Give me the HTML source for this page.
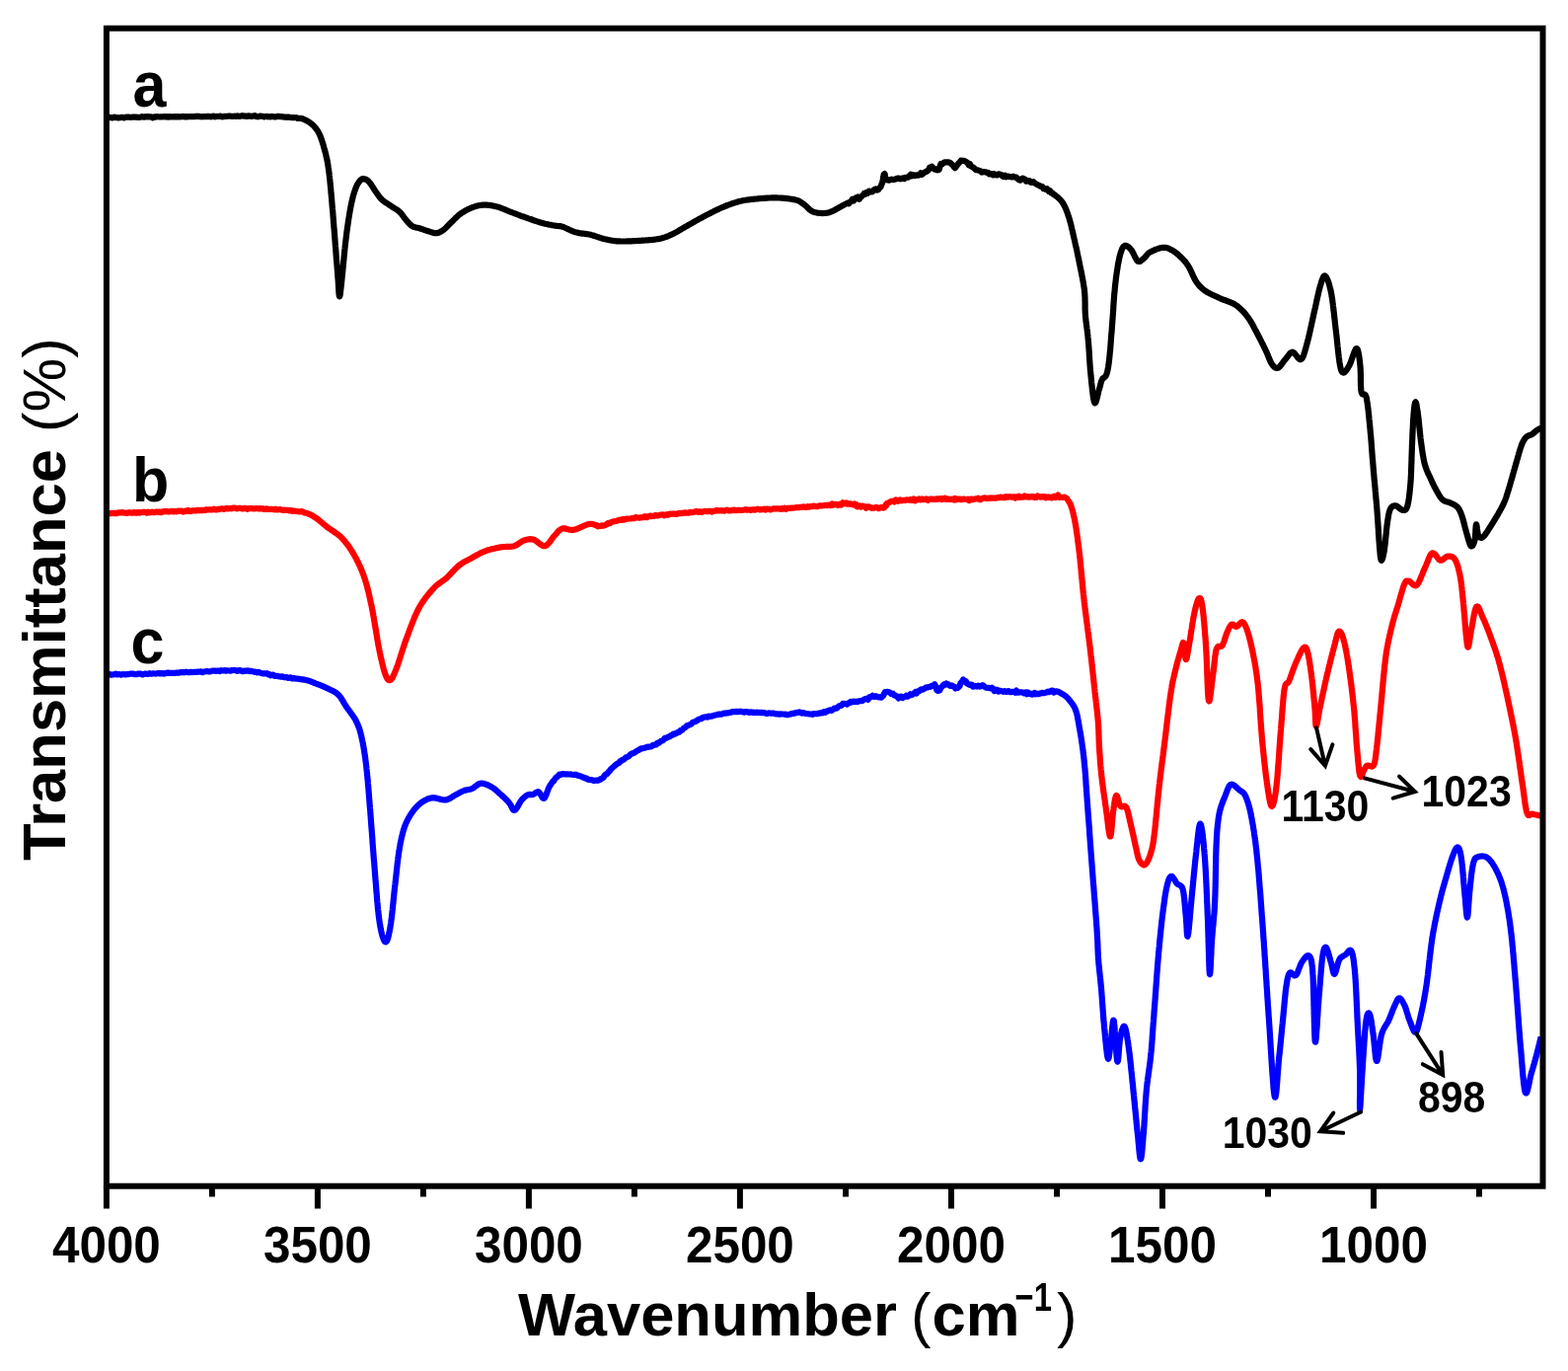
<!DOCTYPE html>
<html><head><meta charset="utf-8"><style>
html,body{margin:0;padding:0;background:#fff;}
svg{display:block;}
text{font-family:"Liberation Sans",Arial,sans-serif;font-weight:bold;fill:#000;}
.tk{font-size:49.4px;}
.ttl{font-size:61.5px;}
.rg{font-weight:normal;}
.sup{font-size:41px;}
.lb{font-size:61px;}
.an{font-size:41px;}
</style></head><body>
<svg width="1589" height="1389" viewBox="0 0 1589 1389">
<rect x="0" y="0" width="1589" height="1389" fill="#fff"/>
<polyline points="107.5,118.9 108.2,119.3 109.0,119.4 109.8,119.0 110.7,118.8 111.7,119.1 112.7,119.2 113.8,119.4 115.0,118.8 116.2,118.7 117.4,119.2 118.7,119.1 120.0,119.4 121.4,119.2 122.7,118.9 124.2,118.8 125.6,119.5 127.1,118.8 128.6,118.6 130.1,118.5 131.6,118.8 133.2,118.8 134.7,118.6 136.3,118.7 137.9,118.7 139.4,118.8 141.0,118.9 142.5,118.7 144.0,118.1 145.6,118.7 147.1,118.2 148.5,118.5 150.0,118.1 151.2,118.5 152.5,118.3 153.7,118.5 154.9,119.3 156.2,118.4 157.5,118.6 158.8,118.1 160.0,118.3 161.3,118.5 162.6,118.3 163.9,118.4 165.2,118.3 166.5,118.1 167.9,118.4 169.2,118.1 170.5,118.7 171.9,118.1 173.2,118.4 174.5,118.2 175.9,118.5 177.2,118.1 178.6,118.4 179.9,118.1 181.3,118.5 182.6,118.3 184.0,118.2 185.3,117.9 186.7,118.3 188.0,118.2 189.3,118.5 190.7,118.0 192.0,118.2 193.4,118.2 194.7,118.1 196.0,118.1 197.4,118.1 198.7,117.9 200.0,117.7 201.3,117.9 202.7,118.1 204.0,118.3 205.4,118.2 206.7,118.2 208.1,118.1 209.5,118.1 210.9,117.9 212.3,118.1 213.7,118.3 215.1,117.8 216.5,117.7 217.9,118.3 219.3,117.9 220.7,118.0 222.1,118.0 223.5,117.5 224.9,118.4 226.2,118.2 227.6,117.8 229.0,117.9 230.4,117.7 231.7,117.5 233.0,117.6 234.4,117.8 235.7,117.9 237.0,117.8 238.3,117.6 239.5,118.0 240.8,117.4 242.0,117.8 243.2,117.9 244.4,117.5 245.6,117.2 246.7,117.4 247.8,117.7 248.9,117.7 250.0,118.0 251.7,117.4 253.4,117.6 255.0,117.8 256.6,117.6 258.1,117.1 259.6,117.9 261.1,118.3 262.5,118.0 263.9,117.5 265.2,117.7 266.5,117.9 267.8,118.5 269.0,118.0 270.2,117.9 271.4,118.3 272.6,118.0 273.7,118.5 274.8,117.9 275.9,118.0 276.9,118.3 278.0,118.5 279.0,118.3 280.0,118.3 281.8,117.8 283.5,118.1 285.1,118.2 286.5,118.3 287.8,118.6 289.1,118.5 290.3,118.8 291.4,118.7 292.5,118.7 293.6,118.8 294.7,119.0 295.8,119.2 297.4,119.0 298.9,119.2 300.4,119.0 301.7,119.9 303.1,120.0 304.3,119.9 305.6,120.1 306.9,120.3 308.2,121.1 309.4,121.7 310.7,122.2 311.9,122.9 313.1,123.6 314.2,124.4 315.3,125.2 316.4,126.1 317.3,126.9 318.2,127.8 319.0,128.7 319.8,129.7 320.6,130.7 321.3,131.8 322.1,132.9 322.8,134.2 323.5,135.6 324.0,136.6 324.5,137.7 324.9,138.9 325.4,140.1 325.8,141.4 326.3,142.7 326.7,144.0 327.1,145.4 327.6,146.8 328.0,148.1 328.3,149.5 328.7,150.9 329.1,152.3 329.4,153.6 329.8,154.8 330.1,156.0 330.4,157.2 330.6,158.4 330.9,159.6 331.2,160.9 331.5,162.2 331.7,163.5 332.0,164.9 332.2,166.4 332.5,167.9 332.7,169.5 333.0,171.3 333.1,172.4 333.3,173.5 333.4,174.6 333.6,175.7 333.7,176.9 333.8,178.1 334.0,179.4 334.1,180.6 334.3,181.9 334.4,183.2 334.5,184.5 334.6,185.8 334.8,187.2 334.9,188.5 335.0,189.9 335.2,191.3 335.3,192.7 335.4,194.1 335.5,195.6 335.7,197.0 335.8,198.5 335.9,199.9 336.1,201.4 336.2,202.9 336.3,204.1 336.4,205.3 336.5,206.5 336.6,207.8 336.7,209.0 336.8,210.3 336.9,211.6 337.1,212.9 337.2,214.2 337.3,215.5 337.4,216.8 337.5,218.2 337.6,219.5 337.7,220.8 337.8,222.2 337.9,223.6 338.0,224.9 338.1,226.3 338.2,227.6 338.3,229.0 338.4,230.4 338.6,231.7 338.7,233.1 338.8,234.5 338.9,235.8 339.0,237.2 339.1,238.5 339.2,239.8 339.3,241.2 339.4,242.5 339.5,243.8 339.6,245.2 339.7,246.6 339.8,247.9 339.9,249.3 340.1,250.8 340.2,252.2 340.3,253.6 340.4,255.1 340.5,256.5 340.6,257.9 340.7,259.4 340.8,260.8 340.9,262.2 341.0,263.6 341.2,265.0 341.3,266.4 341.4,267.8 341.5,269.2 341.6,270.5 341.7,271.8 341.8,273.1 341.9,274.3 342.0,275.5 342.1,276.7 342.2,277.9 342.3,279.0 342.3,280.1 342.4,281.1 342.5,282.1 342.7,284.1 342.8,286.1 342.9,288.1 343.0,289.9 343.1,291.7 343.2,293.3 343.3,294.8 343.4,296.2 343.5,297.4 343.6,298.4 343.7,299.2 343.8,299.8 344.0,300.2 344.1,300.3 344.2,300.2 344.4,299.8 344.5,299.2 344.7,298.4 344.8,297.4 345.0,296.2 345.1,294.8 345.3,293.3 345.5,291.7 345.7,289.9 345.9,288.1 346.1,286.1 346.3,284.1 346.5,282.1 346.6,281.1 346.7,280.1 346.8,279.0 346.9,277.8 347.1,276.6 347.2,275.4 347.3,274.2 347.4,272.9 347.6,271.5 347.7,270.2 347.8,268.8 348.0,267.4 348.1,266.0 348.2,264.6 348.4,263.1 348.5,261.7 348.6,260.2 348.8,258.8 348.9,257.4 349.1,255.9 349.2,254.5 349.3,253.1 349.5,251.6 349.6,250.3 349.8,248.9 349.9,247.5 350.1,246.2 350.2,245.0 350.4,243.7 350.5,242.5 350.7,241.0 350.9,239.5 351.1,238.1 351.2,236.6 351.4,235.2 351.6,233.7 351.8,232.3 352.0,230.9 352.2,229.5 352.4,228.1 352.6,226.7 352.8,225.4 353.0,224.0 353.2,222.7 353.4,221.4 353.6,220.1 353.8,218.9 354.0,217.6 354.2,216.4 354.4,215.3 354.6,214.1 354.8,213.0 355.0,211.9 355.2,210.8 355.5,209.1 355.8,207.6 356.1,206.0 356.5,204.6 356.8,203.2 357.1,201.8 357.4,200.5 357.7,199.3 358.0,198.1 358.3,197.0 358.7,195.9 359.0,194.8 359.3,193.8 359.7,192.8 360.0,191.8 360.7,190.1 361.3,188.6 362.0,187.2 362.8,185.9 363.5,184.8 364.2,183.8 364.8,183.0 365.5,182.3 367.2,181.2 368.7,181.2 370.3,181.6 371.4,182.1 372.6,182.9 373.7,184.0 375.0,185.5 375.7,186.4 376.5,187.5 377.2,188.7 378.0,190.0 378.9,191.3 379.7,192.6 380.5,193.9 381.3,195.0 382.2,196.2 383.0,197.4 383.9,198.6 384.7,199.7 385.6,200.8 386.6,201.9 387.7,202.9 388.8,203.8 389.9,204.6 391.1,205.4 392.4,206.2 393.6,207.0 394.9,207.8 396.1,208.6 397.2,209.3 398.4,210.1 399.6,210.9 400.8,211.6 401.9,212.3 403.0,213.1 404.1,213.9 405.1,214.8 406.1,215.8 407.0,216.9 407.9,218.1 408.8,219.3 409.6,220.5 410.5,221.6 411.4,222.7 412.4,223.9 413.5,225.1 414.5,226.2 415.6,227.3 416.6,228.3 417.8,229.1 419.0,229.7 420.3,230.1 421.6,230.5 422.9,230.7 424.3,231.0 425.7,231.4 427.0,231.8 428.4,232.3 429.8,232.8 431.2,233.3 432.6,233.8 434.0,234.2 435.2,234.6 436.8,235.1 438.2,235.6 439.6,236.0 440.9,236.2 442.3,236.2 443.7,235.9 445.1,235.5 446.5,234.8 447.9,234.0 449.4,233.0 450.3,232.2 451.3,231.4 452.3,230.4 453.2,229.4 454.3,228.3 455.3,227.2 456.3,226.2 457.4,225.1 458.4,224.2 459.4,223.2 460.3,222.2 461.4,221.2 462.4,220.2 463.5,219.2 464.6,218.2 465.7,217.3 466.9,216.4 468.0,215.6 469.2,214.9 470.5,214.2 471.7,213.4 473.0,212.8 474.3,212.1 475.6,211.5 476.9,210.9 478.2,210.4 479.4,209.9 480.9,209.4 482.3,208.9 483.7,208.5 485.1,208.2 486.4,208.0 487.8,207.8 489.3,207.7 490.8,207.6 492.0,207.6 493.3,207.7 494.6,207.8 496.0,207.9 497.3,208.1 498.6,208.3 500.0,208.6 501.3,208.8 502.7,209.2 504.0,209.5 505.3,209.9 506.6,210.3 507.9,210.8 509.2,211.3 510.5,211.8 511.8,212.4 513.1,212.9 514.4,213.5 515.8,214.1 517.2,214.6 518.4,215.0 519.6,215.5 520.8,216.0 522.0,216.4 523.3,216.9 524.5,217.4 525.8,217.8 527.1,218.3 528.3,218.8 529.7,219.3 531.0,219.7 532.3,220.2 533.6,220.6 534.8,221.1 536.2,221.6 537.5,222.0 538.9,222.5 540.2,223.0 541.6,223.5 543.0,223.9 544.3,224.4 545.6,224.8 546.9,225.2 548.1,225.6 549.3,225.9 550.8,226.3 552.3,226.7 553.7,227.0 555.1,227.3 556.5,227.6 557.8,227.8 559.1,228.1 560.3,228.3 561.4,228.5 562.5,228.7 564.3,228.9 565.6,229.0 566.9,229.1 568.2,229.2 570.0,229.7 571.0,230.0 572.0,230.5 573.2,231.0 574.3,231.5 575.6,232.1 576.8,232.7 578.1,233.3 579.4,233.9 580.7,234.4 582.0,234.9 583.3,235.3 584.6,235.6 586.0,235.9 587.3,236.2 588.7,236.4 590.1,236.6 591.6,236.7 593.0,236.9 594.4,237.1 595.7,237.3 597.1,237.5 598.4,237.8 599.8,238.2 601.1,238.5 602.4,239.0 603.7,239.4 605.0,239.9 606.3,240.3 607.6,240.7 608.9,241.2 610.2,241.5 611.6,241.9 612.9,242.2 614.1,242.5 615.4,242.8 616.6,243.1 617.9,243.3 619.2,243.6 620.6,243.8 622.0,244.0 623.5,244.2 625.0,244.3 626.7,244.4 627.8,244.4 629.0,244.5 630.3,244.5 631.6,244.5 632.9,244.5 634.3,244.5 635.7,244.4 637.1,244.4 638.5,244.3 639.9,244.3 641.3,244.2 642.7,244.2 644.1,244.1 645.4,244.0 646.8,243.9 648.1,243.9 649.3,243.8 650.8,243.7 652.2,243.6 653.7,243.5 655.1,243.4 656.6,243.3 658.0,243.2 659.3,243.1 660.7,243.0 662.0,242.8 663.3,242.7 664.6,242.5 665.8,242.3 667.0,242.1 668.2,241.9 669.7,241.6 671.2,241.2 672.5,240.8 673.8,240.4 675.0,240.0 676.3,239.5 677.5,239.0 678.7,238.4 680.0,237.8 681.4,237.2 682.5,236.7 683.6,236.1 684.8,235.5 685.9,234.9 687.1,234.2 688.2,233.5 689.4,232.8 690.6,232.1 691.8,231.4 693.0,230.7 694.2,230.0 695.3,229.4 696.5,228.7 697.7,228.0 698.8,227.4 699.9,226.8 701.0,226.1 702.1,225.5 703.3,224.8 704.4,224.2 705.5,223.5 706.7,222.9 707.9,222.2 709.1,221.6 710.3,220.9 711.6,220.2 712.7,219.6 713.8,219.0 715.0,218.4 716.1,217.8 717.4,217.2 718.6,216.6 719.8,216.0 721.0,215.3 722.3,214.7 723.5,214.1 724.7,213.5 726.0,212.9 727.1,212.3 728.3,211.8 729.4,211.3 730.5,210.8 731.9,210.2 733.3,209.6 734.6,209.0 735.9,208.5 737.2,208.0 738.4,207.5 739.6,207.1 740.8,206.6 742.0,206.2 743.2,205.8 744.4,205.5 745.6,205.1 746.9,204.7 748.2,204.3 749.3,204.0 750.4,203.7 751.5,203.5 752.7,203.2 754.0,203.0 755.4,202.8 757.0,202.5 758.8,202.3 759.9,202.2 761.0,202.0 762.2,201.9 763.5,201.8 764.8,201.6 766.2,201.5 767.6,201.4 769.0,201.2 770.4,201.1 771.9,201.0 773.4,200.9 774.9,200.8 776.3,200.7 777.8,200.6 779.2,200.5 780.6,200.5 781.9,200.4 783.2,200.4 784.5,200.4 786.0,200.4 787.4,200.4 788.9,200.5 790.3,200.5 791.7,200.6 793.2,200.7 794.6,200.8 795.9,200.9 797.3,201.1 798.6,201.2 799.8,201.4 801.0,201.5 802.2,201.7 803.3,201.9 804.3,202.1 805.3,202.3 807.0,202.7 808.4,203.2 809.7,203.7 810.7,204.3 811.7,204.9 812.6,205.6 813.6,206.3 814.7,207.0 815.7,207.8 816.7,208.6 817.7,209.6 818.6,210.5 819.6,211.5 820.6,212.5 821.7,213.3 822.9,214.0 824.2,214.6 825.4,215.0 826.6,215.3 827.9,215.6 829.3,215.8 830.7,215.9 832.1,216.0 833.6,216.1 835.0,216.0 836.5,215.9 837.9,215.8 839.3,215.5 840.6,215.2 841.8,214.7 843.1,214.2 844.3,213.6 845.6,213.0 846.8,212.3 848.1,211.6 849.4,210.8 850.6,210.1 851.9,209.4 853.1,208.7 854.4,208.0 855.6,207.4 856.7,206.8 857.9,206.2 859.1,205.6 860.3,206.3 861.5,204.6 862.7,203.4 863.8,201.8 865.0,203.5 866.1,202.2 867.3,200.5 868.4,201.1 869.5,199.4 870.8,201.8 872.1,199.8 873.3,198.8 874.6,197.7 875.8,195.9 877.1,196.5 878.3,195.0 879.4,195.7 880.6,193.5 881.6,193.7 882.7,194.5 884.3,194.2 885.9,192.1 887.3,191.5 888.7,192.7 890.0,192.2 891.2,190.4 892.2,189.6 892.8,188.6 893.3,187.0 893.8,185.8 894.1,185.3 894.5,183.3 894.8,182.5 895.0,179.7 895.3,178.4 895.6,176.8 895.9,176.7 896.5,176.0 896.8,177.3 897.4,180.7 898.8,182.4 899.7,182.2 900.9,182.7 902.1,182.1 903.5,181.6 905.0,182.1 906.5,181.7 908.0,181.2 909.5,180.7 911.0,180.6 912.3,181.3 913.6,181.1 914.9,180.3 916.3,181.1 917.6,179.9 919.0,179.7 920.3,179.6 921.7,178.0 922.9,176.9 924.2,178.3 925.7,177.1 927.3,178.1 928.8,177.3 930.3,177.6 931.7,177.3 933.1,175.4 934.4,176.7 935.6,175.5 936.9,174.8 938.0,174.1 939.1,173.8 940.1,172.8 941.1,172.0 942.1,169.7 943.1,169.8 944.4,168.7 945.8,170.5 947.1,171.6 948.5,171.4 949.7,172.3 950.7,172.2 951.6,171.8 952.3,169.3 952.8,167.6 953.5,166.1 954.4,166.6 955.7,165.5 957.3,164.3 958.9,164.3 960.5,164.3 962.0,164.6 963.2,165.1 964.3,166.3 965.4,167.2 966.5,168.6 967.7,170.3 968.6,169.2 969.6,167.9 970.6,166.4 971.6,165.2 972.7,164.1 973.9,162.6 975.2,162.8 976.2,163.0 977.2,162.9 978.3,163.5 979.4,164.2 980.6,165.1 981.8,167.3 983.0,166.3 984.2,168.5 985.3,169.1 986.5,169.8 987.7,170.9 988.9,172.1 990.1,172.1 991.3,172.5 992.4,172.7 993.7,173.5 995.0,174.6 996.4,174.2 997.9,174.2 999.0,174.4 1000.1,174.8 1001.3,174.8 1002.5,176.5 1003.7,176.3 1004.9,176.1 1006.2,177.3 1007.5,176.2 1008.9,177.3 1010.3,177.5 1011.8,176.3 1013.3,176.6 1014.9,177.2 1016.0,178.5 1017.3,179.0 1018.5,177.7 1019.8,179.3 1021.2,178.6 1022.6,178.9 1024.0,179.0 1025.4,179.4 1026.9,178.7 1028.3,179.4 1029.7,179.6 1031.1,180.9 1032.5,182.1 1033.9,182.7 1035.2,181.2 1036.5,180.6 1037.7,181.7 1038.9,181.6 1040.0,183.7 1041.6,183.3 1043.1,183.0 1044.5,184.6 1045.9,184.9 1047.2,184.1 1048.4,185.3 1049.5,186.0 1050.7,186.8 1051.8,187.4 1052.8,187.7 1053.9,188.6 1055.0,188.6 1056.3,189.1 1057.5,191.2 1058.7,191.1 1059.8,191.8 1060.9,191.2 1062.0,192.7 1063.0,193.9 1064.1,193.3 1065.1,195.5 1066.2,195.4 1067.3,196.6 1068.4,197.1 1069.5,198.1 1070.6,198.9 1071.6,199.7 1072.7,200.6 1073.7,201.6 1074.7,202.6 1075.6,203.7 1076.5,204.9 1077.2,205.9 1077.8,207.0 1078.4,208.1 1079.0,209.2 1079.6,210.4 1080.1,211.6 1080.6,212.8 1081.1,214.1 1081.6,215.5 1082.1,216.9 1082.6,218.4 1083.1,219.9 1083.5,221.0 1083.8,222.2 1084.1,223.4 1084.5,224.6 1084.8,225.9 1085.2,227.1 1085.5,228.4 1085.8,229.8 1086.1,231.1 1086.4,232.5 1086.8,233.9 1087.1,235.3 1087.4,236.7 1087.7,238.1 1088.0,239.5 1088.4,241.0 1088.7,242.4 1089.0,243.6 1089.3,244.9 1089.5,246.1 1089.8,247.4 1090.1,248.7 1090.4,250.0 1090.7,251.3 1091.0,252.6 1091.3,253.9 1091.6,255.3 1091.8,256.6 1092.1,257.9 1092.4,259.3 1092.7,260.6 1093.0,262.0 1093.2,263.3 1093.5,264.6 1093.8,266.0 1094.0,267.3 1094.3,268.6 1094.6,269.9 1094.8,271.2 1095.1,272.5 1095.4,273.9 1095.6,275.2 1095.9,276.5 1096.2,277.8 1096.4,279.2 1096.7,280.5 1096.9,281.8 1097.2,283.1 1097.4,284.5 1097.7,285.8 1097.9,287.1 1098.1,288.4 1098.3,289.7 1098.5,291.0 1098.7,292.3 1098.9,293.5 1099.0,294.8 1099.1,296.2 1099.3,297.6 1099.3,299.0 1099.4,300.3 1099.5,301.7 1099.5,303.0 1099.5,304.4 1099.6,305.7 1099.6,307.1 1099.6,308.4 1099.6,309.7 1099.6,311.1 1099.6,312.4 1099.6,313.7 1099.7,315.1 1099.7,316.4 1099.8,317.8 1099.9,319.1 1100.0,320.4 1100.1,321.7 1100.3,323.0 1100.4,324.3 1100.5,325.5 1100.7,326.7 1100.9,328.0 1101.0,329.2 1101.2,330.5 1101.4,331.8 1101.5,333.1 1101.7,334.4 1101.9,335.8 1102.0,337.2 1102.2,338.7 1102.4,340.2 1102.5,341.8 1102.7,343.5 1102.8,344.6 1102.9,345.8 1103.0,347.0 1103.1,348.2 1103.2,349.5 1103.3,350.8 1103.4,352.2 1103.5,353.5 1103.6,354.9 1103.7,356.3 1103.8,357.7 1103.8,359.2 1103.9,360.6 1104.0,362.0 1104.1,363.5 1104.2,364.9 1104.3,366.3 1104.4,367.8 1104.5,369.2 1104.6,370.6 1104.7,372.0 1104.8,373.3 1104.9,374.7 1105.0,376.0 1105.2,377.3 1105.3,378.5 1105.4,379.7 1105.5,380.9 1105.7,382.5 1105.8,384.1 1106.0,385.7 1106.1,387.3 1106.3,389.0 1106.5,390.6 1106.7,392.3 1106.8,393.9 1107.0,395.4 1107.2,397.0 1107.4,398.5 1107.6,399.9 1107.7,401.2 1107.9,402.5 1108.1,403.6 1108.3,404.7 1108.5,405.6 1108.7,406.5 1108.9,407.2 1109.1,407.7 1109.3,408.1 1109.7,408.4 1110.1,408.0 1110.6,407.1 1111.0,405.8 1111.5,404.2 1111.9,402.4 1112.4,400.5 1112.8,398.6 1113.2,396.8 1113.6,395.3 1114.0,394.0 1114.5,392.4 1114.9,390.9 1115.2,389.5 1115.6,388.2 1115.9,386.9 1116.3,385.8 1116.8,384.7 1117.6,383.5 1118.6,382.7 1119.6,382.0 1120.6,380.9 1121.4,379.1 1121.7,378.2 1121.9,377.3 1122.2,376.3 1122.4,375.3 1122.6,374.2 1122.9,373.0 1123.1,371.8 1123.3,370.4 1123.5,369.0 1123.7,367.5 1123.9,365.8 1124.1,364.1 1124.3,362.2 1124.4,361.2 1124.5,360.2 1124.6,359.1 1124.7,358.0 1124.8,356.8 1125.0,355.6 1125.1,354.4 1125.2,353.2 1125.3,351.9 1125.4,350.6 1125.5,349.3 1125.6,348.0 1125.7,346.6 1125.8,345.3 1125.9,343.9 1126.0,342.5 1126.1,341.1 1126.2,339.7 1126.3,338.3 1126.5,336.9 1126.6,335.5 1126.7,334.1 1126.8,332.7 1126.9,331.3 1127.0,329.9 1127.1,328.5 1127.2,327.2 1127.3,325.9 1127.4,324.6 1127.5,323.3 1127.6,321.9 1127.7,320.5 1127.8,319.1 1127.9,317.8 1128.0,316.4 1128.1,315.0 1128.2,313.6 1128.3,312.1 1128.3,310.7 1128.4,309.3 1128.5,307.9 1128.6,306.5 1128.7,305.2 1128.8,303.8 1128.9,302.4 1129.0,301.1 1129.1,299.8 1129.2,298.4 1129.3,297.2 1129.5,295.9 1129.6,294.7 1129.7,293.4 1129.8,292.3 1129.9,291.1 1130.1,289.5 1130.2,288.0 1130.4,286.4 1130.6,284.9 1130.8,283.4 1130.9,282.0 1131.1,280.5 1131.3,279.1 1131.5,277.8 1131.7,276.4 1131.9,275.1 1132.1,273.8 1132.3,272.6 1132.5,271.4 1132.6,270.2 1132.8,269.0 1133.0,267.9 1133.2,266.8 1133.4,265.8 1133.6,264.8 1134.0,262.9 1134.4,261.2 1134.7,259.6 1135.1,258.1 1135.5,256.8 1135.9,255.6 1136.3,254.5 1136.6,253.4 1137.0,252.5 1137.4,251.7 1138.6,249.7 1139.7,248.9 1141.1,248.9 1142.1,249.3 1143.2,249.9 1144.3,250.9 1145.5,252.1 1146.7,253.6 1147.4,254.6 1148.1,255.9 1148.8,257.4 1149.6,258.9 1150.3,260.5 1151.1,261.9 1151.8,263.2 1152.6,264.2 1153.3,264.8 1154.6,265.0 1156.0,264.5 1157.3,263.4 1158.6,262.2 1159.8,261.1 1160.7,260.3 1161.5,259.3 1162.2,258.4 1163.0,257.4 1164.0,256.4 1165.4,255.5 1166.4,255.0 1167.6,254.4 1168.9,253.8 1170.3,253.2 1171.7,252.6 1173.2,252.1 1174.6,251.6 1176.0,251.2 1177.3,251.0 1178.5,250.8 1180.0,250.8 1181.5,250.9 1182.8,251.2 1184.1,251.7 1185.3,252.2 1186.6,252.9 1187.9,253.6 1189.0,254.2 1190.0,254.9 1191.1,255.7 1192.2,256.5 1193.3,257.4 1194.3,258.3 1195.3,259.2 1196.3,260.2 1197.3,261.1 1198.2,262.0 1199.1,263.0 1199.9,263.9 1200.8,264.8 1201.6,265.8 1202.4,266.9 1203.2,268.0 1204.0,269.2 1204.8,270.5 1205.4,271.6 1206.0,272.7 1206.6,274.0 1207.2,275.3 1207.8,276.6 1208.4,277.9 1209.0,279.3 1209.7,280.6 1210.3,281.9 1210.9,283.2 1211.6,284.3 1212.3,285.4 1213.1,286.6 1214.0,287.7 1214.8,288.7 1215.6,289.6 1216.5,290.6 1217.4,291.4 1218.3,292.3 1219.3,293.1 1220.4,294.0 1221.6,294.8 1222.6,295.5 1223.8,296.2 1224.9,296.8 1226.2,297.5 1227.4,298.1 1228.7,298.7 1230.0,299.3 1231.3,299.9 1232.7,300.5 1234.0,301.1 1235.3,301.7 1236.6,302.3 1237.8,302.8 1239.0,303.3 1240.2,303.8 1241.5,304.2 1242.7,304.7 1243.9,305.1 1245.2,305.6 1246.4,306.1 1247.6,306.6 1248.8,307.1 1250.0,307.7 1251.1,308.3 1252.2,309.0 1253.3,309.7 1254.3,310.5 1255.3,311.3 1256.3,312.2 1257.3,313.1 1258.2,314.0 1259.2,314.9 1260.1,315.9 1261.0,316.9 1261.9,317.9 1262.8,319.0 1263.6,320.1 1264.5,321.2 1265.2,322.2 1265.9,323.2 1266.6,324.3 1267.3,325.4 1268.0,326.6 1268.7,327.7 1269.3,328.9 1270.0,330.1 1270.6,331.3 1271.2,332.5 1271.8,333.7 1272.5,334.9 1273.1,336.1 1273.7,337.2 1274.3,338.4 1275.0,339.6 1275.6,340.9 1276.3,342.1 1276.9,343.4 1277.6,344.7 1278.2,345.9 1278.8,347.2 1279.5,348.4 1280.1,349.7 1280.7,350.9 1281.2,352.1 1281.8,353.2 1282.4,354.4 1282.9,355.5 1283.5,356.9 1284.2,358.3 1284.7,359.7 1285.3,361.1 1285.8,362.4 1286.4,363.7 1286.9,365.0 1287.4,366.1 1287.9,367.2 1288.5,368.2 1289.0,369.0 1290.2,370.6 1291.4,371.8 1292.6,372.6 1293.8,372.9 1295.1,372.7 1296.0,372.2 1296.9,371.4 1297.8,370.3 1298.7,369.1 1299.7,367.8 1300.6,366.5 1301.6,365.2 1302.5,364.1 1303.5,362.9 1304.6,361.5 1305.6,360.1 1306.6,358.8 1307.6,357.7 1308.7,357.0 1309.8,356.7 1310.8,357.1 1311.9,358.1 1313.0,359.4 1314.2,360.9 1315.3,362.4 1316.4,363.5 1317.4,364.2 1318.4,364.1 1318.9,363.7 1319.5,363.1 1320.0,362.3 1320.4,361.5 1320.9,360.4 1321.3,359.2 1321.7,357.9 1322.2,356.5 1322.6,355.0 1323.1,353.4 1323.5,351.8 1324.0,350.0 1324.5,348.2 1324.8,347.2 1325.0,346.2 1325.3,345.1 1325.6,343.9 1325.9,342.8 1326.2,341.5 1326.5,340.3 1326.8,339.0 1327.1,337.7 1327.4,336.4 1327.7,335.0 1328.0,333.6 1328.3,332.2 1328.6,330.9 1328.9,329.5 1329.2,328.1 1329.5,326.7 1329.8,325.3 1330.1,324.0 1330.4,322.6 1330.7,321.3 1331.0,320.0 1331.2,318.7 1331.5,317.5 1331.8,316.3 1332.1,314.9 1332.4,313.5 1332.8,312.0 1333.1,310.6 1333.4,309.2 1333.7,307.8 1334.0,306.3 1334.3,304.9 1334.6,303.5 1334.9,302.1 1335.2,300.8 1335.5,299.5 1335.8,298.2 1336.1,296.9 1336.4,295.7 1336.6,294.5 1336.9,293.4 1337.2,292.3 1337.5,291.3 1337.7,290.3 1338.0,289.4 1338.7,287.2 1339.3,285.1 1339.9,283.3 1340.5,281.8 1341.0,280.6 1341.6,279.8 1342.2,279.4 1342.9,279.6 1343.3,280.0 1343.8,280.5 1344.3,281.3 1344.7,282.2 1345.2,283.2 1345.7,284.4 1346.2,285.8 1346.7,287.3 1347.2,288.9 1347.6,290.7 1348.1,292.6 1348.6,294.6 1349.0,296.7 1349.2,297.7 1349.4,298.7 1349.5,299.8 1349.7,300.9 1349.9,302.0 1350.1,303.2 1350.3,304.5 1350.4,305.8 1350.6,307.1 1350.8,308.4 1350.9,309.8 1351.1,311.1 1351.3,312.5 1351.4,314.0 1351.6,315.4 1351.8,316.8 1351.9,318.2 1352.1,319.7 1352.2,321.1 1352.4,322.6 1352.6,324.0 1352.7,325.4 1352.9,326.8 1353.0,328.2 1353.2,329.5 1353.3,330.9 1353.5,332.2 1353.6,333.5 1353.8,334.7 1353.9,335.9 1354.1,337.4 1354.3,338.9 1354.4,340.4 1354.6,341.9 1354.8,343.4 1354.9,344.9 1355.1,346.4 1355.2,347.9 1355.4,349.4 1355.5,350.8 1355.7,352.3 1355.8,353.7 1356.0,355.1 1356.1,356.4 1356.3,357.8 1356.4,359.1 1356.6,360.3 1356.7,361.6 1356.9,362.7 1357.0,363.8 1357.2,364.9 1357.3,365.9 1357.4,366.9 1357.6,367.8 1358.0,370.2 1358.4,372.2 1358.8,373.8 1359.2,375.2 1359.7,376.2 1360.1,376.9 1360.6,377.3 1361.2,377.6 1361.9,377.5 1362.7,377.0 1363.6,376.1 1364.5,375.0 1365.5,373.5 1366.4,371.9 1367.4,370.2 1367.9,369.2 1368.4,368.0 1369.0,366.6 1369.5,365.0 1370.1,363.4 1370.6,361.8 1371.2,360.1 1371.8,358.5 1372.3,357.1 1372.8,355.8 1373.4,354.7 1373.8,353.8 1374.3,353.3 1374.7,353.1 1375.1,353.3 1375.5,353.7 1375.9,354.5 1376.2,355.5 1376.5,356.7 1376.8,358.1 1377.1,359.7 1377.3,361.3 1377.6,363.1 1377.8,364.9 1378.0,366.7 1378.2,368.5 1378.4,370.2 1378.5,371.4 1378.6,372.6 1378.7,373.9 1378.7,375.3 1378.8,376.8 1378.8,378.3 1378.9,379.8 1378.9,381.4 1378.9,382.9 1378.9,384.5 1378.9,386.0 1379.0,387.5 1379.0,389.0 1379.0,390.4 1379.1,391.8 1379.2,393.1 1379.2,394.3 1379.3,395.4 1379.5,396.3 1379.6,397.2 1380.4,399.2 1381.4,399.5 1382.4,399.4 1383.5,399.8 1384.5,402.0 1384.7,402.8 1384.9,403.7 1385.1,404.6 1385.2,405.6 1385.4,406.7 1385.6,407.8 1385.8,409.0 1385.9,410.3 1386.1,411.5 1386.3,412.9 1386.4,414.2 1386.6,415.7 1386.8,417.1 1386.9,418.6 1387.1,420.1 1387.2,421.7 1387.4,423.2 1387.5,424.8 1387.7,426.4 1387.9,428.1 1388.0,429.7 1388.2,431.4 1388.3,432.5 1388.4,433.6 1388.5,434.8 1388.6,435.9 1388.7,437.1 1388.8,438.3 1388.9,439.6 1389.1,440.8 1389.2,442.1 1389.3,443.4 1389.4,444.7 1389.5,446.0 1389.6,447.3 1389.7,448.6 1389.8,450.0 1389.9,451.3 1390.0,452.7 1390.1,454.0 1390.2,455.4 1390.3,456.8 1390.4,458.1 1390.5,459.5 1390.6,460.9 1390.7,462.3 1390.8,463.6 1390.9,465.0 1391.1,466.3 1391.2,467.7 1391.3,469.0 1391.4,470.3 1391.5,471.6 1391.6,472.9 1391.7,474.2 1391.8,475.5 1391.9,476.8 1392.0,478.2 1392.1,479.5 1392.3,480.9 1392.4,482.2 1392.5,483.5 1392.6,484.9 1392.7,486.2 1392.9,487.5 1393.0,488.9 1393.1,490.2 1393.2,491.5 1393.4,492.9 1393.5,494.2 1393.6,495.5 1393.7,496.8 1393.8,498.1 1394.0,499.4 1394.1,500.7 1394.2,502.0 1394.3,503.3 1394.4,504.6 1394.5,505.9 1394.7,507.2 1394.8,508.5 1394.9,509.7 1395.0,511.0 1395.1,512.2 1395.2,513.5 1395.3,514.7 1395.4,516.0 1395.5,517.2 1395.6,518.6 1395.7,520.0 1395.8,521.5 1395.9,522.9 1396.0,524.4 1396.1,525.8 1396.2,527.3 1396.3,528.7 1396.4,530.2 1396.5,531.6 1396.6,533.0 1396.7,534.5 1396.8,535.9 1396.9,537.3 1396.9,538.7 1397.0,540.0 1397.1,541.4 1397.2,542.7 1397.3,544.0 1397.4,545.2 1397.4,546.4 1397.5,547.6 1397.6,548.8 1397.7,549.9 1397.8,551.0 1397.8,552.0 1397.9,553.0 1398.0,553.9 1398.2,556.3 1398.4,558.5 1398.6,560.5 1398.7,562.3 1398.9,563.9 1399.1,565.2 1399.3,566.2 1399.5,567.0 1399.7,567.5 1399.9,567.8 1400.2,567.7 1400.5,567.2 1400.8,566.4 1401.2,565.2 1401.6,563.8 1401.9,562.2 1402.3,560.3 1402.7,558.3 1403.0,556.2 1403.1,555.2 1403.3,554.2 1403.4,553.0 1403.6,551.8 1403.7,550.5 1403.9,549.2 1404.0,547.8 1404.1,546.4 1404.3,544.9 1404.4,543.5 1404.6,542.0 1404.7,540.5 1404.9,539.1 1405.0,537.6 1405.1,536.2 1405.3,534.9 1405.4,533.6 1405.6,532.3 1405.7,531.1 1405.9,530.0 1406.0,529.0 1406.3,527.0 1406.6,525.2 1406.9,523.6 1407.1,522.1 1407.4,520.7 1407.7,519.4 1408.0,518.3 1408.3,517.2 1408.7,516.3 1409.1,515.4 1410.2,513.7 1411.5,512.8 1412.9,512.4 1414.4,512.4 1415.6,512.8 1416.8,513.7 1418.2,514.8 1419.5,515.9 1420.8,516.7 1421.9,517.0 1423.3,517.0 1424.4,516.5 1425.4,515.1 1426.4,512.4 1426.6,511.6 1426.8,510.6 1427.0,509.7 1427.2,508.6 1427.4,507.5 1427.6,506.3 1427.8,505.0 1428.0,503.7 1428.1,502.4 1428.3,501.0 1428.5,499.5 1428.6,498.0 1428.8,496.4 1428.9,494.9 1429.1,493.2 1429.2,491.6 1429.4,489.9 1429.5,488.2 1429.6,487.1 1429.7,486.0 1429.7,484.8 1429.8,483.6 1429.9,482.4 1429.9,481.2 1430.0,479.9 1430.0,478.6 1430.1,477.3 1430.1,475.9 1430.2,474.6 1430.2,473.2 1430.3,471.8 1430.3,470.4 1430.4,469.0 1430.4,467.6 1430.5,466.3 1430.5,464.9 1430.5,463.5 1430.6,462.1 1430.6,460.7 1430.7,459.4 1430.7,458.0 1430.8,456.7 1430.8,455.4 1430.9,454.2 1430.9,452.9 1430.9,451.7 1431.0,450.5 1431.1,449.0 1431.1,447.5 1431.2,446.1 1431.3,444.6 1431.3,443.1 1431.4,441.6 1431.4,440.2 1431.5,438.7 1431.6,437.3 1431.6,435.9 1431.7,434.5 1431.8,433.1 1431.8,431.8 1431.9,430.4 1431.9,429.2 1432.0,427.9 1432.1,426.7 1432.1,425.5 1432.2,424.3 1432.3,423.2 1432.4,422.2 1432.4,421.2 1432.5,420.2 1432.7,417.9 1432.9,415.7 1433.1,413.7 1433.3,411.9 1433.5,410.4 1433.8,409.1 1434.0,408.2 1434.3,407.6 1434.5,407.4 1434.7,407.6 1435.0,408.1 1435.2,408.9 1435.4,410.0 1435.7,411.3 1435.9,412.8 1436.2,414.5 1436.5,416.3 1436.7,418.2 1437.0,420.2 1437.1,421.2 1437.3,422.2 1437.4,423.4 1437.5,424.5 1437.7,425.8 1437.8,427.1 1437.9,428.4 1438.1,429.7 1438.2,431.1 1438.3,432.5 1438.5,433.9 1438.6,435.3 1438.8,436.7 1438.9,438.1 1439.1,439.5 1439.2,440.9 1439.4,442.3 1439.5,443.6 1439.7,444.9 1439.8,446.2 1440.0,447.4 1440.2,448.9 1440.4,450.3 1440.6,451.8 1440.8,453.2 1441.0,454.6 1441.2,456.1 1441.4,457.4 1441.6,458.8 1441.8,460.2 1442.0,461.5 1442.3,462.8 1442.5,464.1 1442.7,465.4 1443.0,466.6 1443.2,467.8 1443.5,469.0 1443.8,470.1 1444.2,471.6 1444.7,473.1 1445.2,474.5 1445.7,475.8 1446.2,477.1 1446.7,478.3 1447.2,479.5 1447.8,480.7 1448.3,481.8 1448.9,482.9 1449.4,484.1 1449.9,485.2 1450.5,486.5 1451.1,487.9 1451.7,489.1 1452.3,490.4 1452.9,491.6 1453.5,492.8 1454.1,494.0 1454.7,495.1 1455.3,496.2 1455.9,497.3 1456.6,498.6 1457.4,499.9 1458.1,501.2 1458.9,502.4 1459.6,503.6 1460.4,504.6 1461.2,505.6 1462.0,506.4 1463.2,507.2 1464.4,507.8 1465.7,508.2 1466.9,508.5 1468.2,508.9 1469.5,509.4 1470.8,510.0 1472.1,510.6 1473.5,511.3 1474.8,512.0 1476.0,512.9 1477.1,513.9 1477.9,514.9 1478.6,515.9 1479.2,517.1 1479.8,518.3 1480.4,519.7 1481.0,521.3 1481.6,523.0 1481.9,524.0 1482.3,525.2 1482.6,526.4 1483.0,527.7 1483.3,529.0 1483.7,530.3 1484.0,531.7 1484.4,533.1 1484.7,534.5 1485.1,535.8 1485.4,537.1 1485.8,538.4 1486.1,539.6 1486.5,541.0 1486.9,542.5 1487.4,544.1 1487.8,545.6 1488.2,547.1 1488.7,548.5 1489.1,549.8 1489.5,551.0 1489.9,552.0 1490.3,552.7 1490.7,553.2 1491.5,553.4 1492.4,552.7 1493.2,551.3 1493.9,549.3 1494.5,547.2 1494.7,546.1 1494.9,544.8 1495.0,543.3 1495.1,541.6 1495.3,539.9 1495.3,538.2 1495.4,536.5 1495.5,535.0 1495.6,533.6 1495.7,532.5 1495.9,531.7 1496.0,531.3 1496.2,531.5 1496.4,532.4 1496.7,534.0 1496.9,535.9 1497.2,537.9 1497.5,539.8 1497.8,541.5 1498.2,542.6 1499.4,544.3 1501.0,544.9 1502.8,544.1 1503.5,543.5 1504.2,542.7 1505.0,541.7 1505.8,540.5 1506.7,539.2 1507.6,537.9 1508.5,536.5 1509.4,535.0 1510.3,533.6 1511.0,532.6 1511.6,531.5 1512.4,530.4 1513.1,529.2 1513.8,528.0 1514.6,526.8 1515.3,525.5 1516.1,524.3 1516.8,523.1 1517.5,521.9 1518.2,520.7 1518.8,519.6 1519.4,518.5 1520.1,517.2 1520.8,516.0 1521.4,514.9 1522.0,513.8 1522.6,512.7 1523.1,511.6 1523.7,510.5 1524.2,509.3 1524.8,507.9 1525.4,506.4 1525.8,505.3 1526.2,504.2 1526.6,503.0 1527.0,501.7 1527.4,500.4 1527.8,499.1 1528.2,497.8 1528.7,496.4 1529.1,495.0 1529.5,493.7 1529.9,492.3 1530.3,490.9 1530.7,489.5 1531.1,488.1 1531.5,486.7 1531.9,485.4 1532.3,484.1 1532.7,482.7 1533.0,481.4 1533.4,480.0 1533.8,478.6 1534.2,477.2 1534.6,475.9 1535.0,474.5 1535.4,473.1 1535.7,471.8 1536.1,470.5 1536.5,469.2 1536.8,468.0 1537.2,466.8 1537.5,465.6 1537.9,464.1 1538.3,462.6 1538.8,461.2 1539.1,459.8 1539.5,458.5 1539.9,457.2 1540.3,456.0 1540.6,454.8 1541.0,453.6 1541.4,452.5 1541.7,451.5 1542.1,450.5 1542.8,448.7 1543.6,447.2 1544.3,445.9 1545.0,444.8 1545.8,443.8 1546.6,442.9 1547.7,442.0 1549.0,441.4 1550.2,440.9 1551.5,440.5 1552.6,439.9 1553.8,439.0 1555.0,438.0 1556.1,437.0 1557.2,436.1 1558.5,435.3 1559.9,434.6 1561.1,433.9 1562.0,433.5" fill="none" stroke="#000" stroke-width="6.2" stroke-linejoin="round" stroke-linecap="butt"/>
<polyline points="107.6,520.4 108.3,520.1 109.1,521.2 109.9,520.3 110.8,520.2 111.8,520.2 112.9,519.9 113.9,519.8 115.1,520.1 116.3,519.8 117.5,520.2 118.8,519.8 120.1,519.3 121.5,519.4 122.9,519.5 124.3,519.1 125.8,519.6 127.3,519.5 128.8,519.9 130.3,519.2 131.8,519.4 133.4,519.6 135.0,519.6 136.5,519.0 138.1,519.8 139.6,519.0 141.2,519.6 142.8,519.0 144.3,519.0 145.8,518.7 147.3,519.0 148.8,519.7 150.3,518.7 151.5,519.3 152.8,519.2 154.1,518.7 155.3,519.1 156.6,519.1 158.0,518.6 159.3,518.5 160.6,518.9 162.0,518.6 163.3,519.2 164.7,518.6 166.1,518.0 167.5,518.3 168.8,517.9 170.2,518.5 171.6,518.5 173.0,518.1 174.4,517.9 175.8,518.4 177.2,517.9 178.6,518.4 180.0,517.7 181.4,517.8 182.7,517.7 184.1,517.5 185.5,518.6 186.8,518.3 188.1,517.5 189.5,517.9 190.8,517.0 192.1,517.9 193.4,517.8 194.6,517.3 195.9,517.3 197.1,517.4 198.3,517.4 199.5,517.1 200.7,516.9 202.2,517.1 203.7,516.9 205.1,517.2 206.6,516.9 208.0,516.9 209.3,516.2 210.7,516.5 212.0,516.4 213.4,516.3 214.7,516.4 216.0,516.2 217.2,515.7 218.5,516.4 219.8,516.3 221.0,515.8 222.3,516.1 223.5,515.5 224.7,515.3 226.0,515.6 227.2,516.0 228.4,515.5 229.7,514.9 230.9,515.4 232.1,515.1 233.4,515.0 234.7,515.3 235.9,514.6 237.2,514.6 238.5,514.6 239.8,515.4 241.1,515.1 242.4,514.9 243.8,514.8 245.1,515.3 246.4,515.4 247.8,514.8 249.1,515.1 250.5,515.8 251.8,515.3 253.1,515.0 254.5,515.2 255.8,515.2 257.2,515.4 258.5,515.3 259.8,515.1 261.1,515.2 262.5,515.4 263.8,515.1 265.1,515.4 266.3,515.2 267.6,515.9 268.9,516.0 270.1,515.3 271.4,515.9 272.6,515.8 273.8,515.8 275.0,515.8 276.2,516.0 277.7,516.3 279.2,515.7 280.6,516.5 282.1,516.2 283.6,516.0 285.1,516.5 286.5,516.8 288.0,516.7 289.4,516.9 290.8,516.9 292.2,516.9 293.5,517.5 294.9,517.1 296.2,517.8 297.5,517.7 298.7,517.7 300.0,517.9 301.1,518.0 302.3,518.2 303.4,518.4 304.4,518.5 305.4,518.1 306.4,518.3 308.4,519.4 310.0,519.7 311.5,520.1 312.7,520.6 313.8,521.0 314.8,521.5 315.8,522.0 316.8,522.6 317.8,523.3 319.0,524.0 320.0,524.7 321.1,525.4 322.1,526.1 323.1,526.9 324.1,527.8 325.1,528.6 326.2,529.5 327.2,530.4 328.3,531.3 329.4,532.2 330.5,533.1 331.6,534.0 332.6,534.8 333.6,535.5 334.7,536.2 335.8,536.9 336.9,537.7 338.0,538.4 339.1,539.2 340.3,539.9 341.4,540.7 342.5,541.6 343.6,542.4 344.7,543.3 345.7,544.3 346.7,545.3 347.6,546.2 348.4,547.2 349.3,548.2 350.1,549.2 350.9,550.2 351.7,551.3 352.5,552.3 353.3,553.4 354.1,554.6 354.9,555.7 355.6,556.9 356.4,558.1 357.1,559.3 357.9,560.5 358.6,561.7 359.3,563.0 359.9,564.1 360.5,565.1 361.1,566.2 361.6,567.3 362.2,568.4 362.8,569.5 363.3,570.6 363.9,571.8 364.4,572.9 364.9,574.1 365.5,575.3 366.0,576.5 366.5,577.7 367.0,579.0 367.5,580.3 368.0,581.6 368.5,582.9 368.9,584.2 369.4,585.6 369.8,586.8 370.1,587.9 370.5,589.1 370.9,590.2 371.2,591.4 371.5,592.6 371.9,593.8 372.2,595.0 372.5,596.3 372.8,597.5 373.2,598.8 373.5,600.1 373.8,601.4 374.1,602.7 374.4,604.1 374.7,605.4 375.0,606.8 375.3,608.3 375.6,609.7 375.9,611.2 376.3,612.7 376.6,614.2 376.9,615.8 377.1,616.9 377.4,618.1 377.6,619.3 377.8,620.5 378.0,621.8 378.3,623.1 378.5,624.4 378.7,625.7 379.0,627.0 379.2,628.4 379.4,629.8 379.7,631.2 379.9,632.6 380.1,634.0 380.4,635.4 380.6,636.8 380.8,638.2 381.1,639.6 381.3,641.0 381.5,642.4 381.8,643.8 382.0,645.2 382.2,646.5 382.4,647.9 382.7,649.2 382.9,650.5 383.1,651.7 383.3,653.0 383.5,654.2 383.8,655.3 384.0,656.5 384.2,657.5 384.4,658.6 384.8,660.4 385.1,662.1 385.5,663.8 385.8,665.4 386.2,667.0 386.5,668.5 386.9,670.0 387.2,671.5 387.5,672.9 387.9,674.2 388.2,675.5 388.5,676.8 388.8,677.9 389.2,679.1 389.5,680.1 389.8,681.1 390.1,682.1 390.4,683.0 390.7,683.8 391.8,686.4 392.8,688.1 393.7,689.0 394.7,689.2 395.8,688.8 396.4,688.3 396.9,687.7 397.5,686.9 398.1,685.9 398.6,684.7 399.2,683.4 399.9,681.8 400.6,680.1 401.3,678.3 402.1,676.2 402.4,675.3 402.8,674.3 403.2,673.3 403.5,672.2 403.9,671.1 404.3,669.9 404.7,668.7 405.1,667.4 405.5,666.2 405.9,664.9 406.3,663.5 406.8,662.2 407.2,660.8 407.6,659.5 408.1,658.1 408.5,656.7 409.0,655.3 409.4,654.0 409.9,652.6 410.3,651.2 410.8,649.9 411.3,648.6 411.7,647.3 412.2,646.0 412.7,644.8 413.1,643.6 413.6,642.3 414.0,641.1 414.5,639.8 415.0,638.5 415.5,637.3 415.9,636.0 416.4,634.7 416.9,633.4 417.4,632.2 417.9,630.9 418.4,629.6 418.9,628.4 419.4,627.2 419.9,625.9 420.4,624.7 420.9,623.5 421.5,622.3 422.0,621.2 422.5,620.1 423.1,619.0 423.6,617.9 424.2,616.8 424.7,615.8 425.4,614.5 426.2,613.2 427.0,612.0 427.8,610.7 428.6,609.5 429.4,608.4 430.2,607.2 431.0,606.1 431.8,605.0 432.7,604.0 433.5,602.9 434.3,601.9 435.1,601.0 435.9,600.0 436.7,599.1 437.5,598.2 438.3,597.3 439.1,596.5 439.8,595.7 440.9,594.5 442.0,593.5 443.1,592.5 444.2,591.7 445.2,590.9 446.3,590.2 447.3,589.5 448.3,588.8 449.3,588.1 450.3,587.3 451.4,586.5 452.4,585.6 453.4,584.7 454.3,583.7 455.3,582.8 456.3,581.7 457.2,580.7 458.2,579.7 459.2,578.6 460.2,577.6 461.1,576.6 462.1,575.6 463.1,574.7 464.0,573.8 465.0,573.0 466.1,572.1 467.3,571.3 468.4,570.6 469.5,569.9 470.6,569.2 471.8,568.6 472.9,568.0 474.1,567.4 475.2,566.8 476.4,566.2 477.6,565.5 478.7,564.9 479.8,564.2 481.0,563.6 482.1,563.0 483.3,562.3 484.5,561.7 485.6,561.1 486.8,560.4 488.0,559.9 489.2,559.3 490.5,558.8 491.7,558.3 493.0,557.9 494.2,557.4 495.5,557.0 496.9,556.7 498.2,556.3 499.5,556.0 500.9,555.7 502.2,555.4 503.5,555.1 504.8,554.9 506.1,554.6 507.3,554.4 508.8,554.2 510.2,554.1 511.7,554.0 513.1,553.9 514.5,553.9 515.9,553.9 517.2,553.8 518.5,553.7 519.8,553.5 521.0,553.2 522.4,552.7 523.7,552.0 524.9,551.3 526.1,550.4 527.2,549.6 528.4,548.9 529.5,548.2 530.7,547.7 532.1,547.2 533.4,546.8 534.8,546.5 536.2,546.3 537.6,546.2 539.0,546.3 540.5,546.6 541.6,547.0 542.8,547.7 543.9,548.6 545.1,549.5 546.4,550.5 547.6,551.4 548.8,552.2 550.0,552.9 551.1,553.2 552.2,553.2 553.3,552.8 554.3,552.1 555.3,551.2 556.3,550.1 557.3,548.8 558.3,547.5 559.2,546.1 560.1,544.9 561.0,543.7 561.9,542.7 562.9,541.6 563.9,540.5 564.8,539.4 565.7,538.4 566.6,537.5 567.5,536.7 568.6,536.1 569.7,535.6 570.8,535.4 572.0,535.4 573.2,535.6 574.4,535.9 575.7,536.3 577.1,536.6 578.5,536.8 579.9,536.9 581.4,536.8 582.6,536.5 583.8,536.1 585.1,535.7 586.5,535.1 587.8,534.5 589.2,533.9 590.6,533.2 591.9,532.6 593.3,532.1 594.6,531.6 595.8,531.2 597.0,531.0 598.5,530.9 599.8,531.0 601.1,531.1 602.3,531.5 603.5,532.1 604.7,532.2 606.0,533.3 607.3,533.0 608.8,532.9 609.9,532.4 611.0,532.7 612.2,532.3 613.3,532.2 614.4,531.5 615.6,530.5 616.9,529.8 618.2,530.1 619.6,529.0 621.1,528.6 622.7,528.2 624.4,528.0 625.4,527.8 626.4,527.1 627.4,527.0 628.4,526.5 629.3,527.0 630.3,526.6 631.3,526.0 632.4,526.7 633.4,526.2 634.6,525.7 635.7,525.7 636.9,525.5 638.2,525.5 639.6,525.4 641.0,525.0 642.5,525.1 644.1,524.0 645.9,524.5 647.7,524.6 649.6,524.4 651.7,524.2 652.6,523.5 653.6,523.2 654.6,523.5 655.6,524.2 656.7,523.5 657.7,523.0 658.8,522.6 659.9,523.1 661.0,522.8 662.1,522.9 663.3,522.7 664.5,521.8 665.7,522.4 666.9,522.5 668.1,522.0 669.3,521.6 670.6,521.5 671.8,521.3 673.1,522.3 674.4,521.9 675.7,521.2 677.1,521.6 678.4,520.7 679.7,520.8 681.1,520.6 682.5,520.6 683.8,520.7 685.2,521.0 686.6,520.5 688.0,520.1 689.4,520.1 690.8,519.8 692.3,519.9 693.7,519.4 695.1,519.6 696.6,519.5 698.0,519.6 699.5,518.9 700.9,519.2 702.4,519.0 703.9,518.6 705.3,518.1 706.8,518.4 708.2,518.8 709.7,518.3 711.2,519.0 712.6,518.4 714.1,517.9 715.3,518.0 716.5,518.1 717.7,518.1 718.9,517.8 720.1,517.9 721.3,518.6 722.6,518.0 723.8,517.7 725.1,517.4 726.3,517.0 727.6,517.5 728.9,517.3 730.2,517.3 731.5,517.2 732.8,517.5 734.1,517.6 735.4,517.0 736.7,516.7 738.0,517.2 739.4,517.5 740.7,517.2 742.0,517.1 743.4,516.5 744.7,516.8 746.1,517.1 747.4,517.0 748.8,516.8 750.1,517.0 751.5,517.0 752.9,516.7 754.2,516.5 755.6,516.2 756.9,516.7 758.3,516.5 759.6,516.5 761.0,516.9 762.3,516.3 763.7,516.4 765.0,516.6 766.4,516.1 767.7,515.7 769.1,516.1 770.4,516.5 771.7,516.0 773.0,516.1 774.4,515.6 775.7,516.5 777.0,515.5 778.3,515.8 779.6,515.9 780.9,516.5 782.2,515.9 783.4,515.6 784.7,515.3 786.0,515.6 787.2,515.3 788.4,515.4 789.7,515.5 790.9,515.8 792.1,515.1 793.5,515.7 795.0,514.7 796.4,515.8 797.8,514.9 799.3,514.9 800.8,514.7 802.3,514.8 803.7,514.6 805.2,514.5 806.7,514.2 808.2,514.2 809.7,514.2 811.2,513.9 812.7,513.8 814.1,513.4 815.6,513.7 817.1,513.8 818.6,513.2 820.1,513.7 821.5,513.2 823.0,513.1 824.4,512.5 825.9,513.0 827.3,513.1 828.7,513.2 830.1,512.3 831.5,512.3 832.9,512.5 834.3,512.3 835.6,511.8 837.0,511.9 838.3,512.1 839.6,511.8 840.8,511.5 842.1,512.0 843.3,510.5 844.5,511.5 845.7,510.8 846.9,510.9 848.0,511.4 849.1,511.9 850.2,511.1 851.3,510.8 852.3,511.6 853.3,511.0 854.2,509.3 855.1,510.1 856.0,510.1 856.9,510.0 857.7,509.5 858.5,510.7 862.1,510.4 864.6,511.3 866.0,510.4 866.8,510.9 867.2,510.8 867.5,512.2 867.9,512.7 868.7,513.3 870.2,513.2 871.2,512.4 872.4,513.5 873.6,512.5 874.8,512.8 876.2,513.2 877.6,514.7 879.0,513.3 880.4,513.3 881.9,514.1 883.4,514.8 884.8,514.5 886.2,514.6 887.6,513.9 889.0,514.2 890.2,515.2 891.4,514.5 892.6,514.0 893.6,514.0 895.1,514.6 896.2,514.3 897.0,512.9 897.6,511.5 898.2,512.1 898.9,510.0 899.9,509.6 901.2,509.0 902.9,508.1 905.3,507.5 906.2,508.4 907.1,507.6 908.0,506.5 909.1,506.8 910.1,507.8 911.3,506.9 912.4,506.3 913.6,507.3 914.9,507.0 916.1,506.7 917.4,506.9 918.8,506.3 920.1,506.5 921.5,506.7 922.9,506.0 924.3,506.9 925.8,505.6 927.2,507.3 928.7,506.1 930.1,506.3 931.6,505.4 933.0,506.4 934.5,505.5 935.9,506.2 937.4,505.9 938.8,505.4 940.2,506.8 941.6,505.9 943.0,505.5 944.3,505.5 945.7,505.9 946.9,505.7 948.2,506.1 949.6,505.3 950.9,505.7 952.3,505.3 953.6,505.2 954.9,506.0 956.2,505.1 957.6,504.7 958.9,505.9 960.2,505.3 961.5,505.9 962.8,505.9 964.1,505.9 965.4,505.6 966.7,506.5 967.9,505.1 969.2,506.3 970.5,505.6 971.8,505.8 973.1,505.5 974.3,506.2 975.6,506.0 976.9,505.5 978.2,505.8 979.5,506.0 980.7,505.7 982.0,507.1 983.3,506.0 984.6,505.5 985.9,506.2 987.2,505.8 988.5,505.3 989.8,505.4 991.1,504.7 992.3,505.9 993.6,506.2 994.9,505.3 996.1,504.9 997.4,504.3 998.7,504.5 999.9,505.1 1001.2,504.7 1002.4,504.9 1003.7,504.4 1004.9,504.7 1006.2,504.6 1007.5,504.7 1008.8,504.6 1010.0,504.6 1011.3,503.9 1012.6,504.2 1013.9,503.6 1015.2,503.9 1016.6,504.1 1017.9,504.3 1019.2,503.2 1020.6,503.4 1022.0,503.6 1023.4,503.2 1024.8,503.6 1026.2,503.6 1027.4,503.3 1028.7,504.6 1030.0,503.4 1031.3,503.8 1032.6,502.7 1034.0,504.0 1035.4,503.7 1036.8,503.7 1038.2,502.4 1039.7,503.5 1041.2,503.1 1042.6,503.7 1044.1,503.4 1045.6,503.1 1047.1,503.2 1048.5,504.1 1050.0,504.0 1051.5,502.5 1052.9,503.1 1054.4,503.7 1055.8,503.1 1057.2,503.5 1058.6,503.2 1059.9,504.3 1061.3,503.8 1062.5,503.3 1063.8,504.2 1065.0,503.8 1066.2,504.4 1067.3,503.2 1068.4,502.7 1069.5,504.0 1070.5,503.6 1071.4,502.7 1072.3,501.6 1073.1,503.8 1076.1,504.0 1078.2,503.7 1079.6,504.1 1080.5,504.6 1081.1,505.0 1081.5,505.6 1082.0,506.4 1082.8,507.6 1083.3,508.4 1083.8,509.2 1084.3,510.1 1084.8,511.1 1085.2,512.1 1085.6,513.2 1086.0,514.4 1086.4,515.7 1086.8,517.0 1087.2,518.4 1087.6,520.0 1087.9,521.6 1088.3,523.3 1088.7,525.1 1088.9,526.1 1089.1,527.1 1089.3,528.1 1089.5,529.2 1089.7,530.3 1089.9,531.4 1090.1,532.6 1090.3,533.8 1090.5,535.0 1090.7,536.2 1090.9,537.5 1091.0,538.7 1091.2,540.0 1091.4,541.3 1091.6,542.7 1091.8,544.0 1092.0,545.4 1092.2,546.8 1092.3,548.2 1092.5,549.6 1092.7,551.1 1092.9,552.5 1093.1,554.0 1093.3,555.5 1093.4,557.0 1093.6,558.5 1093.8,560.0 1093.9,561.2 1094.1,562.3 1094.2,563.5 1094.3,564.7 1094.5,565.9 1094.6,567.2 1094.7,568.4 1094.8,569.7 1095.0,571.0 1095.1,572.3 1095.2,573.6 1095.3,574.9 1095.5,576.2 1095.6,577.6 1095.7,578.9 1095.8,580.2 1096.0,581.6 1096.1,583.0 1096.2,584.3 1096.3,585.7 1096.5,587.1 1096.6,588.4 1096.7,589.8 1096.9,591.2 1097.0,592.6 1097.1,593.9 1097.2,595.3 1097.4,596.7 1097.5,598.1 1097.6,599.4 1097.8,600.8 1097.9,602.1 1098.1,603.5 1098.2,604.8 1098.4,606.2 1098.5,607.5 1098.7,608.8 1098.8,610.1 1099.0,611.5 1099.1,612.8 1099.3,614.1 1099.4,615.5 1099.6,616.8 1099.8,618.2 1099.9,619.5 1100.1,620.9 1100.3,622.2 1100.5,623.5 1100.6,624.9 1100.8,626.2 1101.0,627.6 1101.1,628.9 1101.3,630.3 1101.5,631.6 1101.7,632.9 1101.9,634.3 1102.0,635.6 1102.2,636.9 1102.4,638.3 1102.5,639.6 1102.7,640.9 1102.9,642.2 1103.1,643.5 1103.2,644.8 1103.4,646.2 1103.6,647.4 1103.7,648.7 1103.9,650.0 1104.0,651.3 1104.2,652.6 1104.3,653.8 1104.5,655.1 1104.7,656.5 1104.8,657.8 1105.0,659.2 1105.1,660.6 1105.3,661.9 1105.4,663.3 1105.6,664.6 1105.8,666.0 1105.9,667.4 1106.1,668.7 1106.2,670.0 1106.4,671.4 1106.5,672.7 1106.6,674.0 1106.8,675.4 1106.9,676.7 1107.1,678.0 1107.2,679.3 1107.4,680.6 1107.5,681.9 1107.6,683.2 1107.8,684.4 1107.9,685.7 1108.0,687.0 1108.2,688.2 1108.3,689.4 1108.4,690.7 1108.6,691.9 1108.7,693.1 1108.8,694.3 1108.9,695.5 1109.1,696.6 1109.2,697.8 1109.4,699.3 1109.5,700.8 1109.7,702.3 1109.9,703.7 1110.0,705.2 1110.2,706.6 1110.4,708.0 1110.5,709.4 1110.7,710.8 1110.8,712.1 1111.0,713.5 1111.1,714.8 1111.3,716.1 1111.4,717.5 1111.6,718.7 1111.7,720.0 1111.9,721.3 1112.0,722.6 1112.1,723.8 1112.3,725.1 1112.4,726.3 1112.5,727.5 1112.6,728.7 1112.7,729.9 1112.8,731.1 1112.9,732.6 1113.0,734.0 1113.1,735.4 1113.2,736.7 1113.2,738.1 1113.3,739.4 1113.4,740.7 1113.4,741.9 1113.4,743.2 1113.5,744.4 1113.5,745.7 1113.6,746.9 1113.6,748.2 1113.6,749.4 1113.7,750.7 1113.7,751.9 1113.8,753.2 1113.8,754.5 1113.9,755.8 1114.0,757.2 1114.1,758.4 1114.2,759.7 1114.2,760.9 1114.3,762.2 1114.4,763.4 1114.5,764.6 1114.6,765.9 1114.7,767.1 1114.7,768.4 1114.8,769.6 1114.9,770.9 1115.0,772.2 1115.1,773.5 1115.2,774.8 1115.3,776.1 1115.5,777.4 1115.6,778.8 1115.7,780.1 1115.9,781.5 1116.0,782.9 1116.1,784.4 1116.3,785.8 1116.4,787.0 1116.6,788.2 1116.7,789.5 1116.9,790.8 1117.0,792.1 1117.2,793.4 1117.4,794.8 1117.6,796.1 1117.7,797.5 1117.9,798.9 1118.1,800.3 1118.3,801.7 1118.5,803.1 1118.7,804.5 1118.9,805.8 1119.1,807.2 1119.3,808.6 1119.5,810.0 1119.7,811.3 1119.9,812.7 1120.0,814.0 1120.2,815.3 1120.4,816.6 1120.6,817.8 1120.8,819.0 1120.9,820.2 1121.1,821.4 1121.3,823.0 1121.5,824.6 1121.8,826.3 1122.0,828.1 1122.2,829.8 1122.4,831.6 1122.6,833.3 1122.8,835.0 1123.0,836.7 1123.2,838.3 1123.4,839.8 1123.6,841.3 1123.8,842.6 1124.0,843.8 1124.2,844.9 1124.4,845.8 1124.6,846.5 1124.7,847.0 1124.9,847.4 1125.1,847.5 1125.3,847.4 1125.4,847.0 1125.6,846.3 1125.8,845.4 1125.9,844.4 1126.1,843.2 1126.3,841.8 1126.4,840.3 1126.6,838.7 1126.7,837.0 1126.9,835.3 1127.0,833.6 1127.2,831.8 1127.3,830.1 1127.4,828.4 1127.6,826.8 1127.7,825.2 1127.9,823.8 1128.0,822.5 1128.2,821.4 1128.5,819.7 1128.7,817.9 1129.0,816.2 1129.2,814.5 1129.4,812.9 1129.7,811.4 1129.9,810.0 1130.2,808.8 1130.5,807.8 1130.7,806.9 1131.0,806.3 1131.3,806.0 1131.8,806.2 1132.2,807.1 1132.7,808.5 1133.2,810.3 1133.7,812.2 1134.2,814.1 1134.8,815.6 1135.4,816.7 1136.8,817.3 1138.3,816.8 1139.9,816.6 1141.3,817.8 1141.7,818.6 1142.0,819.4 1142.4,820.5 1142.7,821.6 1143.1,822.8 1143.4,824.1 1143.7,825.5 1144.0,826.9 1144.4,828.4 1144.7,829.8 1145.0,831.3 1145.3,832.8 1145.7,834.3 1146.0,835.7 1146.3,837.0 1146.6,838.3 1146.9,839.6 1147.2,841.0 1147.5,842.4 1147.8,843.8 1148.2,845.2 1148.5,846.6 1148.8,848.0 1149.1,849.4 1149.4,850.8 1149.7,852.2 1150.0,853.5 1150.3,854.7 1150.5,856.0 1150.8,857.1 1151.2,858.7 1151.5,860.2 1151.8,861.7 1152.1,863.2 1152.4,864.6 1152.7,865.9 1153.0,867.1 1153.3,868.3 1153.6,869.4 1154.0,870.4 1154.4,871.3 1155.4,873.1 1156.6,874.7 1157.8,875.8 1159.1,876.4 1160.3,876.1 1160.9,875.6 1161.5,874.9 1162.1,874.0 1162.8,872.9 1163.4,871.6 1164.0,870.3 1164.6,868.8 1165.2,867.3 1165.7,865.8 1166.2,864.2 1166.5,863.1 1166.8,862.1 1167.1,861.1 1167.4,860.1 1167.6,859.1 1167.8,858.1 1168.1,856.9 1168.3,855.7 1168.5,854.4 1168.8,852.9 1169.0,851.3 1169.2,849.5 1169.5,847.5 1169.8,845.2 1169.9,844.3 1170.0,843.3 1170.2,842.2 1170.3,841.2 1170.4,840.1 1170.5,838.9 1170.6,837.7 1170.8,836.5 1170.9,835.3 1171.0,834.0 1171.1,832.8 1171.3,831.4 1171.4,830.1 1171.5,828.8 1171.7,827.4 1171.8,826.0 1171.9,824.6 1172.1,823.2 1172.2,821.8 1172.3,820.3 1172.5,818.9 1172.6,817.4 1172.7,816.0 1172.9,814.5 1173.0,813.1 1173.2,811.6 1173.3,810.2 1173.4,808.7 1173.6,807.3 1173.7,805.9 1173.9,804.4 1174.0,803.0 1174.2,801.7 1174.3,800.3 1174.5,798.9 1174.6,797.6 1174.7,796.3 1174.9,795.0 1175.1,793.6 1175.2,792.3 1175.4,791.0 1175.5,789.7 1175.7,788.4 1175.8,787.0 1176.0,785.7 1176.2,784.4 1176.3,783.1 1176.5,781.8 1176.6,780.4 1176.8,779.1 1177.0,777.8 1177.1,776.5 1177.3,775.2 1177.5,773.8 1177.6,772.5 1177.8,771.2 1178.0,769.9 1178.2,768.6 1178.3,767.2 1178.5,765.9 1178.7,764.6 1178.8,763.3 1179.0,762.0 1179.2,760.7 1179.3,759.3 1179.5,758.0 1179.7,756.7 1179.8,755.4 1180.0,754.1 1180.2,752.7 1180.3,751.4 1180.5,750.1 1180.7,748.8 1180.8,747.4 1181.0,746.1 1181.2,744.7 1181.3,743.3 1181.5,741.9 1181.7,740.5 1181.8,739.1 1182.0,737.7 1182.2,736.2 1182.3,734.8 1182.5,733.4 1182.7,732.0 1182.8,730.5 1183.0,729.1 1183.2,727.7 1183.4,726.3 1183.5,724.9 1183.7,723.5 1183.9,722.1 1184.0,720.7 1184.2,719.4 1184.4,718.0 1184.5,716.7 1184.7,715.4 1184.8,714.1 1185.0,712.8 1185.2,711.6 1185.3,710.3 1185.5,709.1 1185.6,708.0 1185.8,706.8 1185.9,705.7 1186.1,704.7 1186.3,703.6 1186.4,702.6 1186.7,700.7 1187.0,698.9 1187.3,697.2 1187.5,695.7 1187.8,694.2 1188.0,692.8 1188.3,691.5 1188.5,690.3 1188.8,689.1 1189.1,687.9 1189.3,686.8 1189.6,685.7 1189.8,684.6 1190.1,683.5 1190.3,682.4 1190.6,681.2 1190.9,680.0 1191.2,678.8 1191.5,677.5 1191.9,676.1 1192.2,674.7 1192.6,673.3 1193.0,671.9 1193.3,670.4 1193.7,669.0 1194.1,667.7 1194.5,666.3 1194.9,665.0 1195.2,663.7 1195.6,662.5 1195.9,661.3 1196.3,660.2 1196.6,659.2 1196.8,658.3 1197.1,657.4 1197.9,654.3 1198.5,652.1 1199.0,651.0 1199.5,651.5 1199.7,652.2 1199.9,653.4 1200.1,654.9 1200.3,656.6 1200.4,658.6 1200.6,660.5 1200.8,662.5 1201.0,664.3 1201.2,665.8 1201.4,667.1 1201.7,667.8 1201.9,668.1 1202.1,667.9 1202.4,667.4 1202.6,666.6 1202.9,665.5 1203.1,664.2 1203.4,662.8 1203.7,661.2 1204.0,659.5 1204.3,657.7 1204.6,655.8 1204.9,654.0 1205.2,652.1 1205.5,650.3 1205.7,649.2 1205.9,648.1 1206.1,646.9 1206.3,645.6 1206.5,644.3 1206.7,642.9 1206.9,641.6 1207.1,640.2 1207.3,638.8 1207.6,637.3 1207.8,635.9 1208.0,634.5 1208.2,633.1 1208.4,631.7 1208.7,630.3 1208.9,628.9 1209.1,627.6 1209.3,626.3 1209.5,625.1 1209.8,623.9 1210.0,622.8 1210.2,621.8 1210.6,620.0 1211.0,618.2 1211.4,616.5 1211.8,614.8 1212.3,613.2 1212.7,611.7 1213.1,610.4 1213.5,609.2 1213.9,608.2 1214.3,607.3 1214.6,606.7 1215.0,606.3 1215.6,606.0 1216.1,606.0 1216.6,606.5 1217.1,607.6 1217.5,609.3 1218.0,611.6 1218.5,614.7 1218.6,615.5 1218.7,616.4 1218.8,617.3 1219.0,618.2 1219.1,619.2 1219.2,620.3 1219.3,621.4 1219.4,622.5 1219.6,623.7 1219.7,624.9 1219.8,626.1 1219.9,627.4 1220.0,628.7 1220.2,630.0 1220.3,631.3 1220.4,632.7 1220.5,634.1 1220.6,635.5 1220.8,637.0 1220.9,638.4 1221.0,639.9 1221.1,641.4 1221.2,642.9 1221.3,644.4 1221.5,645.9 1221.6,647.4 1221.7,649.0 1221.8,650.5 1221.9,652.0 1222.0,653.6 1222.1,655.1 1222.2,656.3 1222.2,657.5 1222.3,658.8 1222.4,660.1 1222.5,661.4 1222.5,662.9 1222.6,664.3 1222.7,665.8 1222.7,667.3 1222.8,668.9 1222.9,670.4 1222.9,672.0 1223.0,673.6 1223.0,675.2 1223.1,676.9 1223.2,678.5 1223.2,680.1 1223.3,681.7 1223.3,683.4 1223.4,685.0 1223.5,686.6 1223.5,688.1 1223.6,689.7 1223.6,691.2 1223.7,692.7 1223.8,694.2 1223.8,695.6 1223.9,697.0 1223.9,698.3 1224.0,699.6 1224.1,700.8 1224.1,702.0 1224.2,703.1 1224.3,704.1 1224.4,705.1 1224.4,706.0 1224.5,706.8 1224.6,707.6 1224.7,708.3 1224.7,708.8 1224.8,709.3 1224.9,709.7 1225.1,710.2 1225.3,710.4 1225.5,710.2 1225.7,709.6 1225.9,708.9 1226.1,707.8 1226.3,706.5 1226.5,705.1 1226.8,703.5 1227.0,701.7 1227.2,699.8 1227.5,697.9 1227.7,696.0 1227.9,694.0 1228.1,692.0 1228.4,690.1 1228.6,688.3 1228.8,686.6 1229.0,685.0 1229.2,683.6 1229.4,682.3 1229.6,680.9 1229.8,679.5 1229.9,678.0 1230.1,676.5 1230.3,675.0 1230.4,673.5 1230.6,672.0 1230.7,670.6 1230.9,669.1 1231.1,667.7 1231.2,666.3 1231.4,664.9 1231.6,663.6 1231.8,662.4 1231.9,661.2 1232.1,660.1 1232.3,659.1 1232.6,658.2 1232.8,657.4 1233.9,655.4 1235.0,654.8 1236.3,654.9 1237.6,654.9 1238.7,653.9 1239.2,653.0 1239.7,651.8 1240.2,650.5 1240.7,649.1 1241.2,647.6 1241.6,646.2 1242.1,644.7 1242.6,643.3 1243.0,642.0 1243.5,640.8 1244.2,639.3 1244.8,637.8 1245.5,636.3 1246.2,635.1 1246.9,634.0 1247.5,633.1 1248.2,632.5 1249.3,632.5 1250.5,633.4 1251.6,634.5 1253.0,634.9 1254.1,634.3 1255.2,633.1 1256.4,631.8 1257.6,630.7 1258.9,630.2 1260.1,630.8 1260.6,631.4 1261.0,632.1 1261.5,632.9 1262.0,633.8 1262.5,634.8 1262.9,635.9 1263.4,637.1 1263.9,638.4 1264.4,639.9 1264.8,641.4 1265.3,643.0 1265.8,644.7 1266.2,646.5 1266.7,648.3 1267.2,650.3 1267.4,651.3 1267.7,652.3 1267.9,653.3 1268.1,654.4 1268.4,655.4 1268.6,656.5 1268.9,657.6 1269.1,658.8 1269.4,659.9 1269.6,661.1 1269.8,662.3 1270.1,663.5 1270.3,664.8 1270.6,666.1 1270.8,667.4 1271.1,668.7 1271.3,670.0 1271.6,671.3 1271.8,672.7 1272.0,674.1 1272.3,675.5 1272.5,677.0 1272.7,678.4 1272.9,679.9 1273.2,681.4 1273.4,682.9 1273.6,684.4 1273.8,686.0 1274.0,687.5 1274.2,689.1 1274.4,690.7 1274.5,691.8 1274.7,693.0 1274.8,694.1 1274.9,695.3 1275.0,696.6 1275.2,697.8 1275.3,699.1 1275.4,700.3 1275.5,701.6 1275.6,702.9 1275.7,704.3 1275.8,705.6 1275.9,707.0 1276.0,708.3 1276.1,709.7 1276.3,711.1 1276.4,712.5 1276.5,713.9 1276.6,715.3 1276.7,716.7 1276.8,718.1 1276.9,719.5 1276.9,721.0 1277.0,722.4 1277.1,723.8 1277.2,725.2 1277.3,726.6 1277.4,728.0 1277.5,729.4 1277.6,730.8 1277.7,732.2 1277.8,733.6 1277.9,735.0 1278.0,736.3 1278.1,737.7 1278.2,739.0 1278.3,740.3 1278.4,741.6 1278.5,742.9 1278.6,744.1 1278.7,745.4 1278.8,746.6 1278.9,747.8 1279.0,749.0 1279.1,750.1 1279.2,751.6 1279.4,753.2 1279.5,754.7 1279.7,756.2 1279.8,757.7 1280.0,759.1 1280.1,760.6 1280.3,762.1 1280.4,763.5 1280.6,764.9 1280.7,766.3 1280.8,767.7 1281.0,769.1 1281.1,770.4 1281.3,771.7 1281.4,773.1 1281.6,774.4 1281.7,775.7 1281.9,776.9 1282.0,778.2 1282.2,779.4 1282.3,780.7 1282.4,781.9 1282.6,783.0 1282.7,784.2 1282.9,785.4 1283.0,786.5 1283.2,787.6 1283.3,788.7 1283.5,789.8 1283.6,790.8 1283.8,791.9 1283.9,792.9 1284.2,794.8 1284.4,796.6 1284.7,798.5 1284.9,800.3 1285.2,802.1 1285.5,803.8 1285.7,805.5 1286.0,807.1 1286.3,808.7 1286.5,810.1 1286.8,811.4 1287.0,812.6 1287.3,813.7 1287.6,814.7 1287.8,815.4 1288.1,816.0 1288.3,816.5 1288.6,816.7 1288.9,816.8 1289.2,816.6 1289.6,816.3 1289.9,815.7 1290.2,815.0 1290.5,814.1 1290.8,813.0 1291.2,811.7 1291.5,810.2 1291.8,808.5 1292.1,806.7 1292.4,804.7 1292.8,802.5 1293.1,800.1 1293.4,797.6 1293.5,796.7 1293.6,795.8 1293.7,794.8 1293.8,793.7 1293.9,792.7 1294.0,791.6 1294.1,790.4 1294.3,789.2 1294.4,788.0 1294.5,786.7 1294.6,785.5 1294.7,784.2 1294.8,782.8 1294.9,781.5 1295.0,780.1 1295.1,778.7 1295.2,777.3 1295.3,775.8 1295.4,774.4 1295.6,772.9 1295.7,771.5 1295.8,770.0 1295.9,768.5 1296.0,767.0 1296.1,765.5 1296.2,764.0 1296.3,762.5 1296.4,761.0 1296.5,759.6 1296.6,758.1 1296.7,756.6 1296.8,755.2 1296.9,753.7 1297.0,752.3 1297.1,750.9 1297.2,749.5 1297.3,748.1 1297.4,746.8 1297.5,745.5 1297.6,744.2 1297.7,742.9 1297.8,741.7 1297.9,740.5 1298.0,739.3 1298.1,738.2 1298.2,736.6 1298.4,735.0 1298.5,733.4 1298.6,731.8 1298.7,730.3 1298.9,728.7 1299.0,727.2 1299.1,725.6 1299.2,724.1 1299.3,722.6 1299.4,721.1 1299.5,719.7 1299.6,718.3 1299.7,716.8 1299.9,715.5 1300.0,714.1 1300.1,712.8 1300.2,711.5 1300.3,710.2 1300.4,709.0 1300.5,707.8 1300.6,706.6 1300.7,705.4 1300.8,704.3 1301.0,703.3 1301.1,702.3 1301.2,701.3 1301.3,700.3 1301.4,699.5 1301.6,698.6 1301.7,697.8 1302.3,695.0 1302.9,693.4 1303.5,692.6 1304.2,692.2 1304.8,691.9 1305.6,691.2 1306.3,689.9 1306.7,688.9 1307.1,687.8 1307.6,686.6 1308.0,685.4 1308.5,684.1 1308.9,682.8 1309.4,681.4 1309.9,680.0 1310.4,678.6 1310.9,677.2 1311.4,675.9 1311.9,674.5 1312.5,673.2 1313.0,672.0 1313.6,670.6 1314.2,669.2 1314.9,667.8 1315.5,666.4 1316.2,664.9 1316.8,663.5 1317.5,662.2 1318.1,660.9 1318.7,659.7 1319.3,658.7 1319.9,657.8 1320.4,657.0 1320.9,656.5 1322.2,655.6 1323.3,656.0 1324.2,657.7 1325.1,660.7 1325.3,661.5 1325.5,662.4 1325.8,663.4 1326.0,664.5 1326.2,665.6 1326.4,666.8 1326.7,668.1 1326.9,669.4 1327.1,670.8 1327.3,672.2 1327.5,673.7 1327.8,675.1 1328.0,676.6 1328.2,678.1 1328.4,679.7 1328.6,681.2 1328.8,682.7 1329.0,684.2 1329.2,685.7 1329.4,686.9 1329.5,688.1 1329.7,689.4 1329.8,690.7 1330.0,692.0 1330.1,693.4 1330.3,694.7 1330.4,696.1 1330.5,697.5 1330.7,698.9 1330.8,700.3 1331.0,701.7 1331.1,703.1 1331.2,704.5 1331.4,705.9 1331.5,707.3 1331.6,708.6 1331.7,709.9 1331.9,711.2 1332.0,712.4 1332.1,713.6 1332.2,714.8 1332.3,715.9 1332.4,717.0 1332.5,718.8 1332.7,720.7 1332.8,722.5 1332.9,724.4 1332.9,726.2 1333.0,727.9 1333.1,729.5 1333.1,731.0 1333.2,732.4 1333.3,733.5 1333.4,734.5 1333.5,735.2 1333.6,735.6 1333.8,735.8 1334.0,735.6 1334.2,735.2 1334.4,734.4 1334.6,733.5 1334.9,732.3 1335.1,730.9 1335.4,729.4 1335.7,727.8 1336.0,726.0 1336.3,724.2 1336.6,722.4 1336.9,720.6 1337.2,718.8 1337.6,717.0 1337.8,715.9 1338.1,714.8 1338.3,713.6 1338.6,712.4 1338.8,711.2 1339.1,709.9 1339.4,708.6 1339.6,707.3 1339.9,706.0 1340.2,704.7 1340.5,703.3 1340.8,701.9 1341.1,700.6 1341.4,699.2 1341.7,697.8 1342.0,696.3 1342.3,694.9 1342.6,693.5 1342.9,692.1 1343.2,690.7 1343.6,689.2 1343.9,687.8 1344.2,686.6 1344.5,685.3 1344.8,684.0 1345.1,682.7 1345.4,681.4 1345.8,680.0 1346.1,678.6 1346.4,677.2 1346.8,675.8 1347.1,674.4 1347.5,673.0 1347.8,671.6 1348.2,670.2 1348.5,668.8 1348.8,667.4 1349.2,666.1 1349.5,664.7 1349.9,663.4 1350.2,662.2 1350.5,660.9 1350.8,659.7 1351.1,658.5 1351.4,657.4 1351.7,656.4 1351.9,655.4 1352.2,654.4 1352.8,652.3 1353.3,650.3 1353.7,648.4 1354.1,646.7 1354.5,645.2 1354.9,643.8 1355.3,642.6 1355.6,641.6 1356.0,640.8 1356.4,640.2 1356.8,639.8 1357.5,639.6 1358.1,640.0 1358.8,640.8 1359.5,642.0 1360.2,643.7 1360.9,645.7 1361.6,648.1 1361.8,649.0 1362.1,649.9 1362.3,650.9 1362.6,651.9 1362.8,653.0 1363.1,654.1 1363.3,655.2 1363.6,656.4 1363.8,657.7 1364.1,659.0 1364.3,660.3 1364.6,661.6 1364.8,663.0 1365.1,664.5 1365.3,665.9 1365.6,667.4 1365.8,668.9 1366.1,670.5 1366.3,672.1 1366.6,673.7 1366.8,675.3 1367.0,676.4 1367.1,677.5 1367.3,678.7 1367.5,679.8 1367.6,681.0 1367.8,682.2 1368.0,683.5 1368.1,684.7 1368.3,686.0 1368.5,687.3 1368.7,688.6 1368.8,689.9 1369.0,691.2 1369.2,692.5 1369.4,693.9 1369.5,695.2 1369.7,696.6 1369.9,698.0 1370.0,699.3 1370.2,700.7 1370.4,702.1 1370.5,703.5 1370.7,704.9 1370.8,706.2 1371.0,707.6 1371.1,709.0 1371.3,710.3 1371.4,711.7 1371.6,713.0 1371.7,714.4 1371.9,715.7 1372.0,717.0 1372.1,718.3 1372.3,719.6 1372.4,721.0 1372.5,722.3 1372.6,723.7 1372.7,725.0 1372.8,726.4 1372.9,727.8 1373.0,729.2 1373.2,730.5 1373.3,731.9 1373.4,733.3 1373.4,734.7 1373.5,736.1 1373.6,737.4 1373.7,738.8 1373.8,740.2 1373.9,741.5 1374.0,742.9 1374.1,744.2 1374.2,745.5 1374.3,746.8 1374.4,748.1 1374.5,749.4 1374.5,750.6 1374.6,751.9 1374.7,753.1 1374.8,754.3 1374.9,755.4 1375.0,756.6 1375.1,757.7 1375.2,758.8 1375.3,760.4 1375.5,762.1 1375.6,763.7 1375.8,765.4 1375.9,767.0 1376.1,768.6 1376.2,770.2 1376.3,771.7 1376.5,773.2 1376.6,774.7 1376.8,776.1 1376.9,777.5 1377.0,778.7 1377.2,780.0 1377.3,781.1 1377.5,782.2 1377.6,783.1 1377.8,784.0 1378.0,784.8 1378.1,785.4 1378.3,786.0 1379.1,786.9 1380.0,785.8 1380.8,783.7 1381.7,781.4 1382.5,779.7 1383.3,778.4 1383.9,777.2 1384.6,776.2 1385.6,775.5 1387.0,775.6 1388.8,776.3 1390.5,776.6 1391.9,775.5 1392.2,774.8 1392.5,774.1 1392.8,773.3 1393.1,772.4 1393.3,771.4 1393.5,770.3 1393.7,769.1 1393.9,767.8 1394.1,766.3 1394.3,764.7 1394.5,762.9 1394.7,761.0 1395.0,758.8 1395.1,757.9 1395.2,756.9 1395.3,755.9 1395.5,754.8 1395.6,753.8 1395.7,752.7 1395.8,751.5 1395.9,750.4 1396.1,749.2 1396.2,747.9 1396.3,746.7 1396.5,745.4 1396.6,744.1 1396.7,742.8 1396.8,741.5 1397.0,740.1 1397.1,738.7 1397.2,737.4 1397.4,736.0 1397.5,734.5 1397.6,733.1 1397.8,731.7 1397.9,730.2 1398.1,728.8 1398.2,727.3 1398.3,725.8 1398.5,724.4 1398.6,722.9 1398.8,721.4 1398.9,719.9 1399.1,718.5 1399.2,717.0 1399.3,715.8 1399.4,714.6 1399.6,713.4 1399.7,712.1 1399.8,710.8 1399.9,709.5 1400.0,708.2 1400.2,706.9 1400.3,705.5 1400.4,704.2 1400.5,702.8 1400.7,701.4 1400.8,700.1 1400.9,698.7 1401.0,697.3 1401.2,695.9 1401.3,694.5 1401.4,693.1 1401.5,691.6 1401.7,690.2 1401.8,688.8 1401.9,687.4 1402.1,686.1 1402.2,684.7 1402.3,683.3 1402.5,681.9 1402.6,680.6 1402.7,679.3 1402.9,677.9 1403.0,676.6 1403.1,675.3 1403.3,674.1 1403.4,672.8 1403.6,671.6 1403.7,670.4 1403.8,669.2 1404.0,668.1 1404.1,667.0 1404.3,665.9 1404.4,664.8 1404.6,663.1 1404.9,661.4 1405.1,659.8 1405.4,658.3 1405.6,656.7 1405.9,655.3 1406.2,653.8 1406.4,652.4 1406.7,651.1 1407.0,649.8 1407.2,648.5 1407.5,647.2 1407.8,646.0 1408.0,644.7 1408.3,643.6 1408.6,642.4 1408.8,641.2 1409.1,640.1 1409.4,639.0 1409.6,637.9 1409.9,636.8 1410.2,635.7 1410.4,634.6 1410.7,633.5 1411.1,631.9 1411.5,630.4 1411.9,628.9 1412.3,627.5 1412.6,626.2 1413.0,624.9 1413.4,623.6 1413.8,622.4 1414.2,621.2 1414.6,620.0 1415.0,618.8 1415.3,617.6 1415.7,616.4 1416.1,615.1 1416.5,613.9 1416.9,612.6 1417.3,611.3 1417.7,609.9 1418.1,608.4 1418.5,607.0 1418.9,605.5 1419.3,604.0 1419.8,602.5 1420.2,601.1 1420.6,599.7 1421.0,598.3 1421.4,597.0 1421.8,595.8 1422.1,594.6 1422.5,593.6 1422.9,592.6 1423.2,591.8 1424.3,589.6 1425.2,588.6 1426.1,588.5 1427.4,588.6 1428.4,589.0 1429.5,589.9 1430.7,591.0 1431.9,592.1 1433.2,593.0 1434.5,593.3 1435.7,592.8 1436.3,592.2 1436.8,591.5 1437.4,590.6 1438.0,589.6 1438.5,588.4 1439.1,587.2 1439.7,585.8 1440.2,584.4 1440.8,583.0 1441.4,581.6 1441.9,580.2 1442.5,578.8 1443.0,577.5 1443.6,576.2 1444.1,575.1 1444.7,573.7 1445.4,572.2 1446.0,570.7 1446.6,569.2 1447.2,567.6 1447.8,566.2 1448.3,564.8 1448.9,563.6 1449.5,562.5 1450.1,561.5 1450.8,560.8 1451.4,560.4 1452.4,560.3 1453.4,560.9 1454.5,562.0 1455.6,563.4 1456.6,564.8 1457.7,566.2 1458.7,567.2 1459.7,567.7 1461.0,567.6 1462.2,566.9 1463.4,565.9 1464.6,564.9 1465.8,564.0 1467.0,563.6 1468.3,563.5 1469.5,563.6 1470.8,563.9 1472.1,564.4 1473.3,565.3 1474.4,566.7 1474.9,567.5 1475.3,568.4 1475.8,569.5 1476.2,570.6 1476.7,571.8 1477.1,573.0 1477.5,574.4 1477.9,575.7 1478.2,577.2 1478.6,578.7 1478.9,580.2 1479.3,581.8 1479.6,583.4 1479.8,584.5 1480.0,585.6 1480.2,586.8 1480.4,588.0 1480.6,589.1 1480.7,590.4 1480.9,591.6 1481.1,592.8 1481.2,594.1 1481.4,595.4 1481.5,596.8 1481.6,598.1 1481.8,599.5 1481.9,600.9 1482.1,602.4 1482.2,603.9 1482.4,605.4 1482.5,606.9 1482.7,608.5 1482.8,609.7 1482.9,610.9 1483.0,612.1 1483.2,613.4 1483.3,614.8 1483.4,616.2 1483.5,617.6 1483.6,619.0 1483.8,620.5 1483.9,621.9 1484.0,623.4 1484.1,624.9 1484.3,626.4 1484.4,627.8 1484.5,629.3 1484.6,630.7 1484.7,632.2 1484.8,633.6 1485.0,634.9 1485.1,636.2 1485.2,637.5 1485.3,638.8 1485.4,639.9 1485.5,641.1 1485.6,642.1 1485.7,643.1 1485.8,644.0 1486.1,646.8 1486.4,649.2 1486.6,651.4 1486.8,653.1 1487.1,654.4 1487.3,655.2 1487.6,655.6 1487.9,655.5 1488.1,655.1 1488.3,654.4 1488.5,653.5 1488.7,652.4 1489.0,651.0 1489.2,649.5 1489.4,647.9 1489.7,646.3 1489.9,644.5 1490.2,642.8 1490.5,641.0 1490.8,639.3 1491.1,637.7 1491.3,636.5 1491.6,635.2 1491.8,633.8 1492.1,632.3 1492.4,630.8 1492.6,629.2 1492.9,627.6 1493.2,626.0 1493.5,624.4 1493.8,622.9 1494.1,621.5 1494.4,620.1 1494.7,618.8 1495.0,617.7 1495.4,616.7 1495.7,615.8 1496.0,615.2 1496.3,614.7 1496.9,614.3 1497.6,614.6 1498.2,615.3 1498.9,616.5 1499.5,618.0 1500.2,619.7 1501.0,621.5 1501.7,623.4 1502.5,625.2 1502.9,626.1 1503.4,627.1 1503.9,628.2 1504.3,629.3 1504.8,630.4 1505.3,631.6 1505.8,632.8 1506.3,634.1 1506.8,635.3 1507.3,636.6 1507.9,637.9 1508.4,639.3 1508.9,640.6 1509.4,641.9 1509.9,643.3 1510.4,644.6 1510.9,646.0 1511.3,647.1 1511.7,648.3 1512.1,649.4 1512.6,650.6 1513.0,651.7 1513.4,652.9 1513.8,654.1 1514.2,655.2 1514.6,656.4 1515.1,657.6 1515.5,658.9 1515.9,660.1 1516.3,661.4 1516.7,662.7 1517.1,664.0 1517.5,665.3 1518.0,666.7 1518.4,668.1 1518.8,669.6 1519.2,671.1 1519.5,672.2 1519.8,673.3 1520.1,674.4 1520.4,675.6 1520.7,676.7 1521.0,677.9 1521.3,679.1 1521.6,680.3 1521.9,681.5 1522.2,682.8 1522.5,684.0 1522.8,685.3 1523.1,686.5 1523.4,687.8 1523.7,689.1 1524.0,690.4 1524.3,691.7 1524.6,693.0 1524.9,694.4 1525.2,695.7 1525.5,697.0 1525.8,698.4 1526.1,699.7 1526.4,701.1 1526.7,702.5 1527.0,703.8 1527.3,705.2 1527.6,706.6 1527.9,707.8 1528.1,709.0 1528.4,710.3 1528.7,711.5 1528.9,712.8 1529.2,714.0 1529.5,715.3 1529.8,716.6 1530.0,717.9 1530.3,719.2 1530.6,720.5 1530.8,721.8 1531.1,723.1 1531.4,724.5 1531.7,725.8 1531.9,727.1 1532.2,728.4 1532.5,729.8 1532.7,731.1 1533.0,732.5 1533.3,733.8 1533.5,735.1 1533.8,736.5 1534.1,737.8 1534.3,739.1 1534.6,740.5 1534.8,741.8 1535.1,743.1 1535.3,744.5 1535.5,745.8 1535.8,747.1 1536.0,748.4 1536.2,749.7 1536.4,751.0 1536.7,752.3 1536.9,753.7 1537.1,755.0 1537.3,756.3 1537.5,757.7 1537.7,759.0 1537.9,760.4 1538.1,761.7 1538.3,763.1 1538.5,764.4 1538.7,765.8 1538.9,767.1 1539.1,768.4 1539.3,769.8 1539.5,771.1 1539.7,772.4 1539.9,773.8 1540.0,775.1 1540.2,776.4 1540.4,777.7 1540.6,779.0 1540.8,780.3 1541.0,781.5 1541.1,782.8 1541.3,784.0 1541.5,785.3 1541.7,786.5 1541.8,787.7 1542.0,788.9 1542.2,790.1 1542.4,791.6 1542.6,793.0 1542.8,794.5 1543.1,796.0 1543.3,797.5 1543.5,799.0 1543.7,800.5 1543.9,802.0 1544.1,803.5 1544.3,805.0 1544.5,806.5 1544.7,807.9 1544.9,809.3 1545.1,810.7 1545.2,812.1 1545.4,813.4 1545.6,814.7 1545.8,815.9 1546.0,817.0 1546.2,818.2 1546.4,819.2 1546.6,820.2 1546.8,821.2 1547.0,822.0 1547.2,822.8 1547.4,823.5 1548.6,826.0 1549.8,826.0 1551.1,825.0 1552.7,824.6 1553.9,824.9 1555.3,825.2 1556.9,825.5 1558.5,825.9 1559.9,826.2 1561.1,826.5 1562.0,826.7" fill="none" stroke="#ff0000" stroke-width="6.2" stroke-linejoin="round" stroke-linecap="butt"/>
<polyline points="107.6,683.4 108.3,683.6 109.1,683.9 109.9,683.5 110.8,683.3 111.8,683.2 112.9,683.8 113.9,683.5 115.1,683.3 116.3,683.2 117.5,682.7 118.8,683.4 120.1,683.1 121.5,683.3 122.9,683.7 124.3,683.2 125.8,683.2 127.3,683.5 128.8,683.1 130.3,683.1 131.8,682.7 133.4,682.7 135.0,682.5 136.5,683.2 138.1,683.2 139.6,682.7 141.2,682.7 142.8,682.6 144.3,683.5 145.8,682.9 147.3,682.5 148.8,682.8 150.3,682.9 151.5,682.2 152.8,682.6 154.1,682.6 155.4,682.3 156.7,682.5 158.0,682.6 159.3,682.2 160.7,682.1 162.0,682.4 163.4,682.1 164.8,682.2 166.2,682.6 167.6,682.1 169.0,681.9 170.4,681.5 171.8,681.9 173.2,681.9 174.6,681.9 176.0,681.8 177.4,681.8 178.8,681.7 180.2,681.6 181.5,681.7 182.9,681.2 184.3,681.1 185.6,681.1 187.0,681.3 188.3,680.7 189.6,681.1 191.0,681.1 192.2,681.2 193.5,680.8 194.8,681.1 196.0,681.0 197.2,680.8 198.4,680.9 199.6,680.8 200.7,680.5 202.3,680.7 203.8,680.4 205.3,681.2 206.8,680.5 208.3,680.3 209.7,680.0 211.1,680.3 212.5,680.4 213.8,680.2 215.2,679.7 216.5,679.7 217.8,679.6 219.1,679.9 220.4,679.6 221.6,679.7 222.8,680.2 224.1,679.1 225.3,679.5 226.5,679.5 227.7,679.0 228.9,679.7 230.1,679.3 231.2,679.5 232.4,679.5 233.6,679.7 234.7,679.1 235.9,679.1 237.4,679.0 238.9,679.0 240.3,679.9 241.8,679.3 243.2,679.0 244.7,679.8 246.1,680.2 247.5,679.5 248.8,679.8 250.2,679.5 251.5,679.4 252.8,680.1 254.1,679.9 255.4,680.0 256.6,680.5 257.9,680.8 259.1,680.7 260.2,681.3 261.4,680.8 262.5,681.1 263.6,681.6 265.3,682.2 266.8,682.4 268.1,682.4 269.4,682.4 270.6,682.2 271.8,683.4 273.0,683.2 274.2,684.3 275.4,683.9 276.7,683.6 278.0,684.8 279.5,684.9 281.2,684.9 282.3,685.3 283.5,685.5 284.8,685.7 286.1,685.3 287.5,686.0 288.9,686.3 290.3,686.0 291.8,686.9 293.2,686.7 294.7,686.3 296.2,687.5 297.7,687.1 299.1,687.4 300.5,687.6 301.9,687.7 303.2,687.9 304.5,688.1 305.7,688.3 306.9,688.4 307.9,688.6 308.9,688.8 310.9,689.2 312.5,689.6 313.8,690.0 314.9,690.4 315.9,690.8 316.8,691.2 317.8,691.6 318.8,692.0 320.0,692.5 321.2,693.0 322.4,693.4 323.7,693.9 325.0,694.4 326.3,694.9 327.6,695.5 328.9,696.0 330.1,696.6 331.3,697.1 332.5,697.7 333.8,698.3 335.0,698.9 336.2,699.5 337.4,700.1 338.6,700.7 339.7,701.4 340.9,702.2 341.9,703.0 343.0,704.0 343.8,704.9 344.6,705.9 345.4,706.9 346.1,708.0 346.9,709.2 347.6,710.4 348.3,711.6 349.0,712.8 349.8,714.1 350.5,715.3 351.3,716.5 352.1,717.6 352.9,718.7 353.7,719.8 354.5,720.9 355.4,722.0 356.2,723.2 357.0,724.3 357.8,725.5 358.6,726.6 359.4,727.8 360.1,728.9 360.7,730.1 361.3,731.4 361.9,732.6 362.4,733.8 362.9,735.0 363.4,736.2 363.8,737.4 364.3,738.7 364.7,740.1 365.1,741.5 365.5,743.1 365.9,744.7 366.2,745.8 366.4,747.0 366.7,748.2 367.0,749.4 367.2,750.6 367.5,751.9 367.8,753.2 368.0,754.6 368.3,755.9 368.5,757.3 368.7,758.7 369.0,760.1 369.2,761.6 369.4,763.1 369.7,764.6 369.9,766.1 370.1,767.6 370.3,768.8 370.4,770.0 370.6,771.2 370.7,772.4 370.9,773.6 371.0,774.9 371.2,776.1 371.3,777.3 371.4,778.6 371.6,779.9 371.7,781.2 371.9,782.5 372.0,783.9 372.1,785.2 372.3,786.6 372.4,788.0 372.5,789.4 372.7,790.9 372.8,792.3 372.9,793.8 373.1,795.3 373.2,796.9 373.3,798.1 373.4,799.2 373.5,800.4 373.6,801.6 373.7,802.9 373.8,804.1 373.9,805.4 374.0,806.7 374.1,808.0 374.2,809.3 374.3,810.6 374.4,811.9 374.5,813.2 374.6,814.6 374.7,815.9 374.8,817.3 374.9,818.6 375.1,820.0 375.2,821.4 375.3,822.8 375.4,824.1 375.5,825.5 375.6,826.9 375.7,828.3 375.8,829.7 375.9,831.0 376.0,832.4 376.1,833.8 376.2,835.1 376.3,836.5 376.4,837.8 376.5,839.0 376.6,840.3 376.7,841.6 376.8,842.8 376.9,844.1 377.0,845.4 377.1,846.6 377.2,847.9 377.3,849.2 377.4,850.4 377.5,851.7 377.5,853.0 377.6,854.3 377.7,855.5 377.8,856.8 377.9,858.1 378.0,859.4 378.1,860.7 378.2,862.0 378.3,863.3 378.4,864.6 378.5,866.0 378.6,867.3 378.7,868.6 378.8,870.0 378.9,871.3 379.1,872.7 379.2,874.0 379.3,875.4 379.4,876.8 379.5,878.2 379.6,879.4 379.7,880.7 379.8,882.0 379.9,883.2 380.0,884.6 380.1,885.9 380.2,887.3 380.3,888.6 380.4,890.0 380.5,891.4 380.6,892.8 380.8,894.2 380.9,895.6 381.0,897.0 381.1,898.4 381.2,899.8 381.3,901.3 381.4,902.7 381.5,904.1 381.7,905.5 381.8,906.9 381.9,908.2 382.0,909.6 382.1,910.9 382.2,912.3 382.3,913.6 382.5,914.9 382.6,916.1 382.7,917.4 382.8,918.6 382.9,919.8 383.0,920.9 383.1,922.1 383.3,923.1 383.4,924.2 383.5,925.2 383.6,926.2 383.8,928.2 384.1,930.2 384.3,932.0 384.6,933.7 384.8,935.4 385.1,936.9 385.3,938.4 385.6,939.8 385.8,941.1 386.1,942.3 386.3,943.5 386.6,944.6 386.8,945.6 387.1,946.6 387.3,947.5 387.6,948.4 387.8,949.2 388.9,952.1 389.9,953.9 391.0,954.4 392.0,953.4 392.3,952.8 392.6,952.1 392.9,951.2 393.2,950.3 393.5,949.2 393.8,947.9 394.1,946.6 394.4,945.2 394.7,943.6 395.0,942.0 395.3,940.3 395.6,938.5 395.9,936.6 396.2,934.6 396.3,933.6 396.5,932.6 396.6,931.5 396.8,930.4 396.9,929.2 397.1,928.0 397.2,926.8 397.3,925.5 397.5,924.2 397.6,922.9 397.8,921.6 397.9,920.3 398.0,918.9 398.2,917.5 398.3,916.1 398.5,914.7 398.6,913.3 398.7,911.9 398.9,910.5 399.0,909.1 399.2,907.7 399.3,906.3 399.4,905.0 399.6,903.6 399.7,902.2 399.9,900.9 400.0,899.6 400.2,898.3 400.3,897.0 400.5,895.6 400.6,894.3 400.8,892.9 400.9,891.5 401.1,890.1 401.2,888.7 401.4,887.4 401.5,886.0 401.7,884.6 401.8,883.2 402.0,881.8 402.1,880.4 402.3,879.1 402.4,877.7 402.6,876.4 402.7,875.0 402.9,873.7 403.0,872.4 403.2,871.1 403.3,869.8 403.5,868.6 403.7,867.4 403.8,866.2 404.0,865.0 404.2,863.8 404.3,862.7 404.5,861.6 404.8,860.0 405.0,858.5 405.3,857.0 405.5,855.5 405.8,854.1 406.1,852.7 406.4,851.4 406.6,850.1 406.9,848.8 407.2,847.6 407.5,846.4 407.8,845.2 408.1,844.0 408.4,842.9 408.7,841.8 409.0,840.7 409.4,839.7 409.7,838.6 410.2,837.1 410.8,835.6 411.3,834.3 411.9,833.0 412.5,831.7 413.1,830.5 413.7,829.4 414.3,828.2 415.0,827.2 415.6,826.1 416.3,825.0 417.0,824.0 417.8,822.8 418.7,821.6 419.6,820.4 420.5,819.3 421.4,818.2 422.4,817.2 423.4,816.2 424.4,815.3 425.4,814.4 426.4,813.6 427.6,812.7 428.8,811.9 430.0,811.2 431.3,810.5 432.5,809.9 433.8,809.3 435.2,808.9 436.5,808.5 437.9,808.3 439.2,808.2 440.5,808.4 441.9,808.6 443.3,809.0 444.8,809.3 446.2,809.7 447.6,810.1 449.0,810.3 450.3,810.5 451.5,810.4 453.0,810.1 454.4,809.6 455.7,808.9 457.0,808.2 458.3,807.4 459.5,806.6 460.7,805.9 461.9,805.2 463.2,804.5 464.4,803.9 465.6,803.2 466.8,802.6 468.0,802.0 469.1,801.5 470.3,801.0 471.7,800.6 473.1,800.3 474.4,800.0 475.8,799.8 477.2,799.4 478.6,798.9 479.8,798.2 480.9,797.4 482.1,796.4 483.3,795.5 484.5,794.7 485.7,794.0 487.0,793.7 488.2,793.7 489.5,793.8 490.8,794.1 492.1,794.5 493.4,795.0 494.8,795.5 496.1,796.2 497.4,796.9 498.4,797.5 499.5,798.2 500.6,799.0 501.7,799.8 502.7,800.7 503.8,801.6 504.8,802.5 505.8,803.5 506.8,804.3 507.8,805.2 508.8,806.1 509.9,807.1 510.9,808.0 511.8,809.0 512.8,809.9 513.7,810.9 514.6,811.8 515.4,812.7 516.2,813.6 517.2,815.1 518.1,816.8 518.9,818.4 519.6,819.8 520.4,820.7 521.4,820.9 522.1,820.5 522.9,819.7 523.7,818.5 524.6,817.2 525.4,815.7 526.3,814.2 527.1,812.7 527.9,811.4 528.7,810.4 529.8,809.2 530.9,808.1 532.0,807.2 533.0,806.4 534.0,805.7 535.0,805.2 536.7,804.9 538.3,805.1 540.0,805.0 541.4,804.3 542.8,803.2 544.3,802.3 545.7,802.2 546.6,803.0 547.6,804.4 548.5,806.1 549.4,807.7 550.4,808.7 551.3,808.8 551.9,808.3 552.4,807.5 552.9,806.4 553.5,805.1 554.0,803.7 554.6,802.1 555.2,800.6 555.7,799.1 556.4,797.7 557.0,796.5 557.8,795.3 558.6,794.1 559.4,792.9 560.3,791.7 561.2,791.2 562.1,789.6 562.9,788.4 563.7,787.6 564.5,787.2 565.8,785.9 566.9,784.7 568.2,784.8 570.2,784.0 571.2,784.2 572.5,784.3 573.8,784.3 575.2,784.4 576.7,784.5 578.3,784.4 579.8,784.8 581.3,785.0 582.8,784.7 584.1,784.9 585.3,785.6 586.9,785.9 588.4,786.4 589.7,787.1 591.0,787.6 592.2,787.8 593.4,788.6 594.7,788.7 596.1,789.8 597.5,790.0 598.9,790.1 600.3,790.3 601.6,790.9 602.9,790.8 604.2,790.6 605.5,790.8 606.7,790.3 607.8,790.0 609.0,789.0 610.2,788.7 611.7,787.5 612.5,785.9 613.4,784.9 614.2,784.4 615.1,784.2 616.1,782.9 617.0,781.8 618.0,780.8 619.0,779.3 620.0,778.6 621.1,777.3 622.1,776.7 623.1,775.6 624.1,774.7 625.2,773.9 626.3,773.4 627.4,772.9 628.5,771.1 629.6,771.0 630.7,769.9 631.8,769.7 633.0,768.8 634.1,767.5 635.2,767.1 636.3,766.7 637.5,766.0 638.7,764.6 639.9,763.7 641.1,763.3 642.3,762.9 643.5,762.1 644.7,761.2 645.9,760.6 647.1,760.0 648.3,759.3 649.5,758.4 650.8,758.4 652.1,757.9 653.5,757.7 654.8,757.1 656.1,756.7 657.4,756.8 658.7,756.5 660.1,756.5 661.4,755.1 662.7,754.9 663.9,754.4 665.1,754.5 666.3,752.5 667.6,752.7 668.8,751.5 670.0,750.7 671.2,750.5 672.4,749.7 673.6,747.8 674.8,747.7 675.9,747.4 677.2,746.6 678.6,746.4 679.8,745.2 681.1,744.8 682.3,743.6 683.6,743.8 684.8,743.1 686.0,742.6 687.3,741.5 688.4,741.6 689.5,740.1 690.6,740.1 691.7,739.3 692.8,737.7 693.9,737.3 695.1,736.3 696.2,735.1 697.4,735.1 698.6,734.2 699.7,734.0 700.8,733.4 702.0,731.8 703.1,731.5 704.3,731.1 705.4,730.6 706.6,729.8 707.9,728.9 709.1,728.5 710.5,728.3 711.8,727.2 713.0,726.8 714.2,726.5 715.4,726.3 716.7,726.6 718.0,725.7 719.3,725.8 720.6,725.7 722.0,725.4 723.3,724.9 724.7,724.5 726.0,724.3 727.4,723.9 728.8,723.6 730.1,723.7 731.4,723.6 732.7,722.9 734.1,722.5 735.4,722.6 736.8,722.3 738.1,722.3 739.5,721.9 740.9,721.7 742.3,721.0 743.6,721.2 745.0,721.1 746.3,720.9 747.7,721.1 749.0,720.9 750.4,720.7 751.7,721.1 753.1,721.3 754.4,721.7 755.8,721.1 757.1,721.1 758.4,721.6 759.8,721.9 761.1,721.4 762.5,721.8 763.8,721.7 765.2,722.1 766.5,721.7 767.9,721.8 769.2,721.9 770.6,722.1 772.1,721.8 773.5,722.2 774.9,722.1 776.3,722.9 777.7,722.9 779.1,722.4 780.4,722.5 781.7,722.8 783.0,722.6 784.2,722.7 785.4,723.1 787.0,723.3 788.4,723.3 789.8,723.7 791.2,723.4 792.5,723.5 793.7,723.5 795.0,723.6 796.2,723.6 797.4,724.2 798.6,724.1 800.1,723.6 801.5,723.4 802.9,722.8 804.3,723.0 805.7,722.4 807.1,722.1 808.5,721.9 810.0,721.4 811.2,721.8 812.5,722.6 813.7,722.1 815.0,722.4 816.2,722.9 817.6,723.0 818.9,723.2 820.3,723.4 821.7,723.5 823.2,723.8 824.4,723.0 825.6,723.1 826.9,723.0 828.2,723.2 829.5,722.6 830.9,722.7 832.2,722.1 833.6,722.3 835.0,721.1 836.3,721.8 837.6,720.5 838.9,720.4 840.2,719.5 841.5,719.4 842.8,719.9 844.1,718.9 845.4,717.6 846.6,717.5 847.8,717.6 849.1,716.4 850.3,715.2 851.6,715.0 852.9,714.5 854.2,712.8 855.5,713.0 856.8,712.9 858.1,713.6 859.4,712.7 860.8,712.1 862.1,710.9 863.5,711.3 864.9,710.5 866.3,711.1 867.6,710.6 868.9,711.1 870.1,710.4 871.4,710.2 872.5,710.1 874.1,709.9 875.6,708.7 877.0,708.1 878.3,707.9 879.6,708.9 880.9,706.4 882.1,705.9 883.3,706.1 884.4,704.8 886.1,705.9 887.6,705.2 889.1,706.0 890.4,706.4 891.7,706.2 892.9,706.7 894.1,705.6 895.1,704.7 896.0,703.0 896.9,701.1 898.0,701.0 899.2,700.9 900.5,701.0 901.9,701.7 903.3,703.0 904.8,702.7 905.9,704.3 907.0,704.3 908.1,705.1 909.3,706.0 910.6,707.4 911.9,705.8 913.3,705.7 914.5,707.0 915.7,706.0 917.0,706.0 918.4,704.8 919.7,705.7 921.1,704.8 922.5,703.3 923.9,704.2 925.2,703.1 926.4,702.3 927.6,701.1 928.8,702.4 930.0,700.3 931.3,700.4 932.5,699.1 933.7,698.3 934.8,698.7 936.0,698.0 937.1,697.5 938.5,696.4 939.9,696.4 941.3,696.0 942.7,695.9 944.0,694.8 945.2,694.8 946.3,694.9 947.2,693.3 948.4,695.7 949.0,698.2 949.5,699.4 950.6,699.9 951.4,699.7 952.3,699.3 953.3,696.6 954.4,696.0 955.6,694.7 956.7,693.3 957.9,693.8 959.1,692.4 960.3,693.0 961.6,693.8 962.9,694.9 964.3,694.3 965.6,695.2 966.9,695.6 968.2,697.4 969.3,696.7 970.4,696.9 971.5,696.1 972.5,695.1 973.4,692.0 974.3,691.2 975.2,690.1 976.1,688.4 977.1,689.9 978.0,690.9 978.9,690.3 979.9,692.4 981.2,693.2 982.9,693.9 983.9,693.5 985.0,693.7 986.1,695.7 987.4,695.3 988.7,694.9 990.1,695.6 991.5,694.6 992.9,695.6 994.3,695.2 995.8,694.2 997.2,695.3 998.6,696.4 999.9,696.7 1001.2,696.9 1002.5,696.9 1003.8,697.4 1005.1,696.7 1006.4,697.9 1007.7,700.0 1009.1,698.8 1010.4,698.8 1011.7,700.6 1013.0,699.7 1014.3,700.0 1015.6,700.4 1016.9,700.8 1018.2,700.1 1019.5,700.9 1020.8,700.8 1022.1,700.1 1023.4,701.2 1024.7,701.1 1026.1,700.8 1027.4,700.9 1028.7,701.7 1030.0,699.6 1031.3,701.7 1032.6,701.3 1033.9,701.4 1035.2,701.3 1036.5,701.5 1037.8,702.3 1039.1,701.5 1040.4,703.1 1041.7,701.6 1043.1,702.9 1044.4,702.6 1045.7,703.7 1047.0,703.3 1048.3,702.1 1049.6,703.3 1050.9,702.6 1052.2,703.2 1053.6,702.8 1055.0,702.2 1056.4,701.9 1057.7,702.2 1059.1,701.8 1060.5,701.4 1061.9,700.6 1063.2,701.2 1064.4,700.4 1065.7,699.6 1066.8,699.6 1067.9,701.6 1069.5,700.6 1071.0,700.4 1072.4,700.8 1073.6,701.5 1074.8,702.1 1075.9,702.8 1077.0,703.4 1078.1,704.0 1079.3,704.8 1080.3,705.6 1081.3,706.6 1082.3,707.6 1083.2,708.6 1084.0,709.7 1084.9,710.8 1085.7,711.9 1086.5,712.9 1087.3,714.0 1088.0,715.1 1088.7,716.3 1089.4,717.7 1090.0,719.3 1090.3,720.3 1090.6,721.2 1090.9,722.2 1091.2,723.2 1091.5,724.2 1091.7,725.3 1091.9,726.5 1092.2,727.8 1092.5,729.3 1092.8,730.9 1093.1,732.6 1093.4,734.6 1093.6,735.6 1093.7,736.6 1093.9,737.6 1094.1,738.6 1094.3,739.7 1094.5,740.8 1094.7,742.0 1094.9,743.1 1095.1,744.3 1095.3,745.5 1095.5,746.8 1095.7,748.1 1095.9,749.4 1096.1,750.7 1096.3,752.1 1096.5,753.4 1096.7,754.9 1096.9,756.3 1097.1,757.8 1097.3,759.3 1097.6,760.9 1097.7,762.5 1097.9,764.1 1098.1,765.7 1098.3,767.4 1098.5,769.1 1098.6,770.2 1098.7,771.3 1098.8,772.4 1098.9,773.5 1099.0,774.7 1099.1,775.9 1099.2,777.1 1099.4,778.3 1099.5,779.5 1099.6,780.7 1099.7,782.0 1099.8,783.2 1099.9,784.5 1100.0,785.8 1100.1,787.1 1100.2,788.4 1100.3,789.8 1100.4,791.1 1100.4,792.4 1100.5,793.8 1100.6,795.2 1100.7,796.5 1100.8,797.9 1100.9,799.3 1101.0,800.7 1101.1,802.1 1101.2,803.4 1101.3,804.8 1101.4,806.2 1101.5,807.6 1101.6,809.0 1101.7,810.4 1101.8,811.8 1101.9,813.2 1102.0,814.6 1102.1,816.0 1102.2,817.4 1102.3,818.8 1102.4,820.2 1102.5,821.6 1102.6,822.9 1102.7,824.3 1102.8,825.6 1102.9,826.8 1103.0,828.1 1103.1,829.4 1103.2,830.7 1103.3,832.0 1103.4,833.3 1103.5,834.6 1103.6,835.9 1103.7,837.2 1103.8,838.5 1103.9,839.8 1104.0,841.1 1104.1,842.4 1104.1,843.7 1104.2,845.0 1104.3,846.3 1104.4,847.7 1104.5,849.0 1104.6,850.3 1104.7,851.6 1104.8,853.0 1104.9,854.3 1105.0,855.6 1105.1,856.9 1105.2,858.3 1105.3,859.6 1105.4,860.9 1105.5,862.2 1105.6,863.6 1105.7,864.9 1105.8,866.2 1105.9,867.5 1106.0,868.9 1106.1,870.2 1106.2,871.5 1106.3,872.8 1106.4,874.2 1106.5,875.5 1106.6,876.8 1106.7,878.1 1106.8,879.5 1106.9,880.8 1107.0,882.1 1107.1,883.4 1107.2,884.7 1107.3,886.1 1107.4,887.4 1107.5,888.8 1107.6,890.1 1107.7,891.5 1107.8,892.9 1107.9,894.3 1108.0,895.7 1108.2,897.1 1108.3,898.5 1108.4,899.9 1108.5,901.3 1108.6,902.7 1108.7,904.2 1108.8,905.6 1108.9,907.0 1109.0,908.4 1109.1,909.8 1109.3,911.2 1109.4,912.6 1109.5,914.0 1109.6,915.4 1109.7,916.8 1109.8,918.2 1109.9,919.6 1110.0,920.9 1110.1,922.3 1110.2,923.6 1110.3,924.9 1110.4,926.2 1110.5,927.5 1110.6,928.8 1110.7,930.0 1110.8,931.3 1110.9,932.5 1111.0,933.7 1111.1,934.9 1111.1,936.0 1111.2,937.1 1111.3,938.2 1111.4,939.3 1111.5,940.4 1111.5,941.4 1111.6,942.4 1111.7,944.4 1111.8,946.2 1111.9,947.9 1112.0,949.6 1112.1,951.1 1112.2,952.6 1112.3,954.0 1112.3,955.3 1112.4,956.6 1112.4,957.8 1112.4,959.0 1112.5,960.2 1112.5,961.4 1112.6,962.5 1112.6,963.6 1112.7,964.7 1112.7,965.9 1112.8,967.0 1112.8,968.2 1112.9,969.4 1113.0,970.7 1113.1,972.0 1113.2,973.3 1113.3,974.7 1113.4,976.0 1113.5,977.2 1113.7,978.5 1113.8,979.8 1113.9,981.1 1114.0,982.4 1114.2,983.6 1114.3,984.9 1114.5,986.2 1114.6,987.5 1114.7,988.8 1114.9,990.1 1115.0,991.5 1115.2,992.8 1115.3,994.2 1115.4,995.6 1115.6,997.0 1115.7,998.5 1115.9,1000.0 1116.0,1001.5 1116.1,1002.7 1116.2,1003.9 1116.3,1005.1 1116.4,1006.4 1116.5,1007.7 1116.6,1009.0 1116.7,1010.3 1116.8,1011.6 1116.9,1013.0 1117.0,1014.3 1117.1,1015.7 1117.2,1017.1 1117.3,1018.4 1117.4,1019.8 1117.5,1021.2 1117.6,1022.6 1117.7,1024.0 1117.8,1025.4 1117.9,1026.7 1118.0,1028.1 1118.1,1029.5 1118.2,1030.8 1118.3,1032.2 1118.4,1033.5 1118.5,1034.8 1118.7,1036.1 1118.8,1037.4 1118.9,1038.7 1119.0,1039.9 1119.1,1041.3 1119.3,1042.8 1119.4,1044.4 1119.6,1046.0 1119.7,1047.6 1119.9,1049.2 1120.0,1050.8 1120.2,1052.5 1120.3,1054.1 1120.5,1055.7 1120.7,1057.3 1120.8,1058.9 1121.0,1060.4 1121.1,1061.9 1121.3,1063.3 1121.5,1064.6 1121.6,1065.9 1121.8,1067.1 1121.9,1068.2 1122.1,1069.2 1122.2,1070.1 1122.4,1070.9 1122.5,1071.5 1122.7,1072.0 1122.8,1072.4 1123.1,1072.7 1123.3,1072.5 1123.5,1071.8 1123.8,1070.8 1124.0,1069.4 1124.2,1067.8 1124.5,1065.9 1124.7,1064.0 1124.9,1062.0 1125.1,1060.0 1125.4,1058.1 1125.6,1056.3 1125.8,1054.7 1126.0,1053.4 1126.2,1051.8 1126.3,1050.1 1126.5,1048.3 1126.7,1046.4 1126.9,1044.4 1127.0,1042.5 1127.2,1040.7 1127.4,1038.9 1127.6,1037.4 1127.7,1036.0 1127.9,1034.9 1128.1,1034.1 1128.3,1033.6 1128.5,1033.6 1128.7,1034.0 1128.8,1034.4 1128.9,1035.0 1129.0,1035.8 1129.1,1036.8 1129.2,1037.9 1129.4,1039.1 1129.5,1040.4 1129.6,1041.9 1129.7,1043.4 1129.8,1045.0 1130.0,1046.7 1130.1,1048.5 1130.2,1050.2 1130.3,1052.1 1130.4,1053.9 1130.6,1055.8 1130.7,1057.6 1130.8,1059.4 1130.9,1061.2 1131.0,1062.9 1131.2,1064.6 1131.3,1066.2 1131.4,1067.7 1131.5,1069.1 1131.6,1070.5 1131.8,1071.6 1131.9,1072.7 1132.0,1073.6 1132.1,1074.3 1132.2,1074.9 1132.3,1075.3 1132.5,1075.6 1132.6,1075.5 1132.8,1075.0 1133.0,1074.2 1133.1,1073.1 1133.3,1071.8 1133.4,1070.3 1133.6,1068.6 1133.7,1066.8 1133.8,1064.9 1134.0,1063.0 1134.1,1061.1 1134.3,1059.2 1134.5,1057.4 1134.6,1055.7 1134.8,1054.2 1135.0,1052.8 1135.2,1051.7 1135.6,1049.7 1136.1,1047.6 1136.6,1045.6 1137.0,1043.7 1137.6,1042.1 1138.1,1040.8 1138.6,1039.9 1139.1,1039.6 1139.6,1039.9 1139.8,1040.3 1140.1,1040.9 1140.3,1041.6 1140.6,1042.4 1140.8,1043.4 1141.1,1044.5 1141.3,1045.7 1141.6,1047.0 1141.8,1048.4 1142.1,1049.8 1142.4,1051.4 1142.6,1053.0 1142.9,1054.7 1143.1,1056.4 1143.4,1058.1 1143.6,1059.9 1143.9,1061.7 1144.1,1063.5 1144.2,1064.5 1144.4,1065.6 1144.5,1066.7 1144.7,1067.8 1144.8,1068.9 1144.9,1070.1 1145.1,1071.3 1145.2,1072.5 1145.3,1073.8 1145.5,1075.0 1145.6,1076.3 1145.8,1077.6 1145.9,1078.9 1146.0,1080.2 1146.2,1081.6 1146.3,1082.9 1146.4,1084.3 1146.6,1085.6 1146.7,1087.0 1146.9,1088.4 1147.0,1089.8 1147.1,1091.2 1147.3,1092.5 1147.4,1093.9 1147.5,1095.3 1147.7,1096.7 1147.8,1098.1 1148.0,1099.5 1148.1,1100.8 1148.2,1102.2 1148.4,1103.6 1148.5,1104.9 1148.6,1106.2 1148.8,1107.5 1148.9,1108.8 1149.0,1110.1 1149.2,1111.4 1149.3,1112.8 1149.4,1114.2 1149.6,1115.5 1149.7,1116.9 1149.8,1118.3 1150.0,1119.7 1150.1,1121.1 1150.2,1122.5 1150.4,1123.9 1150.5,1125.3 1150.7,1126.7 1150.8,1128.1 1150.9,1129.4 1151.1,1130.8 1151.2,1132.2 1151.3,1133.5 1151.5,1134.9 1151.6,1136.2 1151.7,1137.5 1151.8,1138.8 1152.0,1140.0 1152.1,1141.3 1152.2,1142.5 1152.3,1143.7 1152.4,1144.8 1152.6,1146.0 1152.7,1147.1 1152.8,1148.2 1152.9,1149.2 1153.1,1151.0 1153.3,1152.9 1153.5,1154.8 1153.6,1156.6 1153.8,1158.5 1154.0,1160.3 1154.1,1162.0 1154.3,1163.7 1154.4,1165.3 1154.6,1166.8 1154.7,1168.3 1154.9,1169.6 1155.0,1170.7 1155.2,1171.8 1155.3,1172.6 1155.4,1173.3 1155.6,1173.9 1155.7,1174.2 1155.9,1174.3 1156.1,1174.2 1156.2,1173.9 1156.4,1173.3 1156.5,1172.6 1156.7,1171.8 1156.8,1170.7 1157.0,1169.6 1157.1,1168.3 1157.3,1166.8 1157.4,1165.3 1157.6,1163.7 1157.7,1162.0 1157.9,1160.3 1158.0,1158.5 1158.2,1156.6 1158.3,1154.8 1158.5,1152.9 1158.6,1151.0 1158.8,1149.2 1158.9,1148.2 1159.0,1147.1 1159.1,1146.0 1159.1,1144.8 1159.2,1143.6 1159.3,1142.4 1159.4,1141.2 1159.5,1139.9 1159.6,1138.6 1159.6,1137.3 1159.7,1136.0 1159.8,1134.6 1159.9,1133.3 1160.0,1131.9 1160.0,1130.5 1160.1,1129.1 1160.2,1127.7 1160.3,1126.3 1160.4,1124.9 1160.5,1123.5 1160.5,1122.1 1160.6,1120.7 1160.7,1119.3 1160.8,1117.9 1160.9,1116.5 1161.0,1115.1 1161.1,1113.8 1161.2,1112.4 1161.3,1111.1 1161.4,1109.8 1161.5,1108.6 1161.6,1107.3 1161.7,1106.1 1161.8,1104.9 1161.9,1103.4 1162.1,1102.0 1162.2,1100.6 1162.4,1099.2 1162.5,1097.8 1162.7,1096.5 1162.9,1095.1 1163.0,1093.8 1163.2,1092.5 1163.4,1091.2 1163.6,1090.0 1163.7,1088.7 1163.9,1087.4 1164.1,1086.2 1164.3,1084.9 1164.4,1083.6 1164.6,1082.4 1164.8,1081.1 1165.0,1079.9 1165.1,1078.6 1165.3,1077.3 1165.5,1076.0 1165.6,1074.7 1165.8,1073.4 1165.9,1072.1 1166.1,1070.8 1166.2,1069.4 1166.3,1068.1 1166.4,1066.9 1166.6,1065.6 1166.7,1064.4 1166.8,1063.2 1166.9,1062.0 1167.0,1060.8 1167.1,1059.6 1167.2,1058.4 1167.3,1057.2 1167.4,1056.0 1167.5,1054.8 1167.6,1053.5 1167.7,1052.3 1167.7,1051.0 1167.8,1049.8 1167.9,1048.5 1168.0,1047.2 1168.1,1045.9 1168.2,1044.5 1168.3,1043.2 1168.4,1041.8 1168.5,1040.3 1168.6,1038.9 1168.7,1037.4 1168.8,1035.8 1169.0,1034.3 1169.1,1032.7 1169.2,1031.0 1169.3,1029.9 1169.4,1028.8 1169.5,1027.6 1169.5,1026.5 1169.6,1025.3 1169.7,1024.1 1169.8,1022.8 1169.9,1021.6 1170.0,1020.3 1170.1,1019.0 1170.2,1017.7 1170.3,1016.4 1170.4,1015.0 1170.5,1013.7 1170.6,1012.3 1170.7,1010.9 1170.8,1009.6 1170.9,1008.2 1171.0,1006.8 1171.1,1005.4 1171.2,1004.0 1171.3,1002.6 1171.4,1001.2 1171.5,999.8 1171.6,998.3 1171.7,996.9 1171.8,995.5 1171.9,994.1 1172.0,992.7 1172.1,991.3 1172.2,990.0 1172.3,988.6 1172.4,987.2 1172.5,985.9 1172.6,984.5 1172.7,983.2 1172.8,981.9 1172.9,980.6 1173.0,979.3 1173.1,978.0 1173.2,976.8 1173.3,975.5 1173.4,974.3 1173.5,973.2 1173.6,972.0 1173.7,970.5 1173.9,969.0 1174.0,967.5 1174.1,966.0 1174.2,964.6 1174.4,963.1 1174.5,961.7 1174.6,960.3 1174.8,958.8 1174.9,957.4 1175.0,956.1 1175.1,954.7 1175.3,953.3 1175.4,952.0 1175.5,950.6 1175.7,949.3 1175.8,948.0 1175.9,946.7 1176.1,945.4 1176.2,944.2 1176.3,942.9 1176.4,941.7 1176.6,940.4 1176.7,939.2 1176.8,938.0 1177.0,936.8 1177.1,935.6 1177.2,934.4 1177.3,933.3 1177.5,932.1 1177.6,931.0 1177.7,929.9 1177.9,928.8 1178.0,927.7 1178.2,926.1 1178.4,924.5 1178.6,923.0 1178.8,921.4 1179.0,919.9 1179.2,918.4 1179.4,917.0 1179.6,915.6 1179.8,914.2 1180.0,912.8 1180.2,911.4 1180.3,910.1 1180.5,908.8 1180.7,907.6 1180.9,906.4 1181.1,905.2 1181.3,904.1 1181.5,903.0 1181.7,901.9 1181.9,900.9 1182.1,899.9 1182.3,899.0 1182.5,898.1 1183.0,895.8 1183.6,893.8 1184.1,892.0 1184.6,890.6 1185.1,889.5 1185.7,888.7 1186.3,888.1 1186.9,887.8 1187.7,887.9 1188.5,888.7 1189.3,889.8 1190.2,891.2 1191.1,892.7 1191.9,894.1 1192.8,895.2 1193.8,896.0 1194.9,896.5 1195.9,897.0 1196.9,897.7 1197.9,898.9 1198.7,901.1 1198.9,902.0 1199.1,902.9 1199.3,904.0 1199.5,905.2 1199.7,906.4 1199.8,907.7 1200.0,909.1 1200.2,910.5 1200.3,912.0 1200.4,913.5 1200.6,915.0 1200.7,916.5 1200.8,918.0 1201.0,919.5 1201.1,921.0 1201.2,922.4 1201.3,923.8 1201.5,925.2 1201.6,926.5 1201.7,927.7 1201.9,929.4 1202.0,931.2 1202.1,933.1 1202.3,935.2 1202.4,937.2 1202.5,939.2 1202.6,941.1 1202.7,943.0 1202.8,944.6 1202.9,946.0 1203.1,947.2 1203.2,948.1 1203.3,948.6 1203.5,948.7 1203.7,948.3 1203.8,947.9 1203.9,947.4 1204.0,946.8 1204.1,946.1 1204.3,945.2 1204.4,944.3 1204.5,943.3 1204.6,942.1 1204.8,940.9 1204.9,939.7 1205.0,938.3 1205.2,936.9 1205.3,935.4 1205.4,933.9 1205.6,932.4 1205.7,930.8 1205.9,929.2 1206.0,927.5 1206.1,925.9 1206.3,924.2 1206.4,922.5 1206.6,920.9 1206.7,919.2 1206.9,917.6 1207.0,916.0 1207.2,914.4 1207.3,912.9 1207.5,911.4 1207.6,909.9 1207.7,908.7 1207.8,907.4 1208.0,906.2 1208.1,904.9 1208.2,903.6 1208.3,902.3 1208.5,900.9 1208.6,899.6 1208.7,898.3 1208.9,896.9 1209.0,895.5 1209.1,894.2 1209.2,892.8 1209.4,891.4 1209.5,890.0 1209.6,888.7 1209.8,887.3 1209.9,885.9 1210.0,884.5 1210.2,883.2 1210.3,881.8 1210.4,880.5 1210.6,879.2 1210.7,877.8 1210.8,876.5 1211.0,875.2 1211.1,874.0 1211.2,872.7 1211.3,871.5 1211.5,870.2 1211.6,869.0 1211.7,867.9 1211.9,866.7 1212.0,865.6 1212.2,864.0 1212.4,862.3 1212.5,860.6 1212.7,858.9 1212.9,857.2 1213.1,855.4 1213.3,853.6 1213.5,851.9 1213.6,850.1 1213.8,848.4 1214.0,846.8 1214.2,845.2 1214.4,843.7 1214.6,842.2 1214.7,840.9 1214.9,839.6 1215.1,838.5 1215.3,837.5 1215.5,836.6 1215.7,835.9 1215.8,835.3 1216.0,834.9 1216.2,834.6 1216.4,834.6 1216.6,834.7 1216.7,835.0 1216.9,835.4 1217.1,836.0 1217.3,836.7 1217.5,837.5 1217.6,838.4 1217.8,839.4 1218.0,840.6 1218.2,841.8 1218.4,843.1 1218.6,844.5 1218.7,846.0 1218.9,847.5 1219.1,849.1 1219.3,850.7 1219.5,852.4 1219.6,854.2 1219.8,855.9 1220.0,857.7 1220.1,859.5 1220.3,861.3 1220.5,863.2 1220.6,865.0 1220.8,866.8 1220.9,868.6 1221.0,869.6 1221.1,870.7 1221.1,871.8 1221.2,872.9 1221.3,874.1 1221.4,875.2 1221.4,876.4 1221.5,877.6 1221.6,878.8 1221.7,880.0 1221.7,881.3 1221.8,882.6 1221.9,883.8 1221.9,885.1 1222.0,886.4 1222.1,887.8 1222.1,889.1 1222.2,890.4 1222.3,891.8 1222.3,893.2 1222.4,894.5 1222.5,895.9 1222.5,897.3 1222.6,898.7 1222.7,900.1 1222.7,901.5 1222.8,902.9 1222.8,904.3 1222.9,905.7 1223.0,907.1 1223.0,908.5 1223.1,909.9 1223.1,911.3 1223.2,912.7 1223.2,914.1 1223.3,915.5 1223.4,916.9 1223.4,918.3 1223.5,919.6 1223.5,921.0 1223.6,922.4 1223.6,923.7 1223.7,925.1 1223.7,926.4 1223.8,927.7 1223.9,929.0 1223.9,930.4 1224.0,931.8 1224.0,933.3 1224.1,934.8 1224.1,936.3 1224.2,937.8 1224.2,939.4 1224.3,941.0 1224.3,942.6 1224.4,944.3 1224.4,945.9 1224.5,947.6 1224.5,949.2 1224.6,950.9 1224.6,952.5 1224.6,954.2 1224.7,955.8 1224.7,957.5 1224.8,959.1 1224.8,960.7 1224.9,962.3 1224.9,963.9 1225.0,965.4 1225.0,967.0 1225.0,968.4 1225.1,969.9 1225.1,971.3 1225.2,972.7 1225.2,974.0 1225.3,975.3 1225.3,976.6 1225.3,977.7 1225.4,978.9 1225.4,979.9 1225.5,980.9 1225.5,981.9 1225.6,982.8 1225.6,983.6 1225.7,984.3 1225.7,984.9 1225.8,985.5 1225.8,986.0 1225.9,986.4 1225.9,986.7 1226.0,987.0 1226.1,987.1 1226.1,986.9 1226.2,986.6 1226.3,986.0 1226.4,985.2 1226.5,984.3 1226.5,983.2 1226.6,982.0 1226.7,980.6 1226.8,979.2 1226.9,977.6 1227.0,975.9 1227.0,974.2 1227.1,972.4 1227.2,970.6 1227.3,968.7 1227.4,966.8 1227.5,964.9 1227.5,963.0 1227.6,961.2 1227.7,959.4 1227.8,957.6 1227.9,955.9 1228.0,954.3 1228.1,952.7 1228.2,951.3 1228.3,950.0 1228.4,948.8 1228.5,947.6 1228.6,946.3 1228.7,945.1 1228.8,943.9 1228.9,942.7 1229.0,941.5 1229.1,940.3 1229.2,939.1 1229.4,937.9 1229.5,936.7 1229.6,935.4 1229.7,934.2 1229.8,933.0 1229.9,931.7 1230.0,930.4 1230.1,929.1 1230.2,927.8 1230.4,926.4 1230.5,925.1 1230.6,923.7 1230.7,922.2 1230.8,920.8 1230.9,919.3 1230.9,917.7 1231.0,916.2 1231.1,914.6 1231.2,912.9 1231.2,911.8 1231.3,910.7 1231.3,909.5 1231.4,908.3 1231.4,907.1 1231.5,905.8 1231.5,904.6 1231.5,903.3 1231.6,901.9 1231.6,900.6 1231.6,899.2 1231.7,897.9 1231.7,896.5 1231.7,895.1 1231.8,893.6 1231.8,892.2 1231.8,890.8 1231.8,889.3 1231.9,887.9 1231.9,886.4 1231.9,885.0 1231.9,883.5 1232.0,882.1 1232.0,880.6 1232.0,879.2 1232.0,877.7 1232.1,876.3 1232.1,874.9 1232.1,873.5 1232.2,872.1 1232.2,870.7 1232.2,869.3 1232.2,868.0 1232.3,866.6 1232.3,865.3 1232.3,864.1 1232.4,862.8 1232.4,861.6 1232.4,860.4 1232.5,859.2 1232.5,858.0 1232.6,856.9 1232.6,855.8 1232.7,854.8 1232.7,853.8 1232.8,851.8 1232.9,850.0 1233.0,848.2 1233.1,846.5 1233.2,844.9 1233.3,843.3 1233.4,841.8 1233.5,840.4 1233.6,839.0 1233.8,837.7 1233.9,836.5 1234.0,835.2 1234.1,834.1 1234.3,832.9 1234.4,831.8 1234.6,830.7 1234.7,829.6 1234.9,828.5 1235.0,827.5 1235.2,826.4 1235.4,825.4 1235.6,824.3 1235.9,822.7 1236.3,821.1 1236.7,819.6 1237.1,818.2 1237.5,816.9 1237.9,815.6 1238.4,814.3 1238.8,813.2 1239.3,812.0 1239.7,810.9 1240.2,809.8 1240.6,808.7 1241.1,807.7 1241.5,806.6 1242.1,805.1 1242.6,803.6 1243.2,802.1 1243.7,800.6 1244.3,799.2 1244.8,798.0 1245.4,796.9 1246.0,795.9 1246.7,795.2 1247.4,794.8 1248.4,794.7 1249.5,795.0 1250.6,795.7 1251.8,796.6 1253.1,797.7 1254.2,798.8 1255.3,799.8 1256.3,800.7 1257.5,801.5 1258.5,802.1 1259.4,802.7 1260.3,803.5 1261.3,804.8 1262.2,806.6 1262.6,807.4 1262.9,808.3 1263.3,809.3 1263.7,810.3 1264.0,811.3 1264.4,812.4 1264.8,813.5 1265.1,814.7 1265.5,816.0 1265.9,817.4 1266.3,818.8 1266.6,820.3 1267.0,821.9 1267.4,823.6 1267.7,825.4 1268.1,827.3 1268.3,828.3 1268.5,829.3 1268.7,830.2 1268.8,831.3 1269.0,832.3 1269.2,833.3 1269.4,834.4 1269.6,835.4 1269.8,836.5 1269.9,837.6 1270.1,838.7 1270.3,839.9 1270.5,841.0 1270.7,842.2 1270.9,843.4 1271.0,844.6 1271.2,845.9 1271.4,847.2 1271.6,848.5 1271.8,849.8 1272.0,851.2 1272.2,852.6 1272.3,854.0 1272.5,855.5 1272.7,857.0 1272.9,858.6 1273.1,860.1 1273.3,861.7 1273.4,863.4 1273.6,865.1 1273.8,866.8 1274.0,868.6 1274.1,869.6 1274.2,870.7 1274.3,871.8 1274.4,872.8 1274.5,873.9 1274.6,875.0 1274.7,876.2 1274.8,877.3 1274.9,878.5 1275.1,879.6 1275.2,880.8 1275.3,882.0 1275.4,883.2 1275.5,884.4 1275.6,885.6 1275.7,886.9 1275.8,888.1 1275.9,889.4 1276.0,890.7 1276.1,892.0 1276.2,893.2 1276.3,894.5 1276.4,895.9 1276.5,897.2 1276.6,898.5 1276.7,899.8 1276.8,901.2 1277.0,902.5 1277.1,903.9 1277.2,905.3 1277.3,906.6 1277.4,908.0 1277.5,909.4 1277.6,910.8 1277.7,912.2 1277.8,913.6 1277.9,915.0 1278.0,916.4 1278.1,917.9 1278.2,919.3 1278.3,920.7 1278.4,922.1 1278.5,923.6 1278.6,925.0 1278.7,926.5 1278.8,927.9 1279.0,929.3 1279.1,930.8 1279.2,932.2 1279.3,933.7 1279.4,935.1 1279.5,936.6 1279.6,938.0 1279.7,939.5 1279.8,940.9 1279.9,942.4 1280.0,943.6 1280.1,944.8 1280.2,946.0 1280.2,947.2 1280.3,948.5 1280.4,949.7 1280.5,950.9 1280.6,952.2 1280.7,953.5 1280.8,954.7 1280.9,956.0 1280.9,957.3 1281.0,958.5 1281.1,959.8 1281.2,961.1 1281.3,962.4 1281.4,963.7 1281.5,965.0 1281.5,966.3 1281.6,967.6 1281.7,969.0 1281.8,970.3 1281.9,971.6 1282.0,972.9 1282.1,974.3 1282.2,975.6 1282.2,976.9 1282.3,978.3 1282.4,979.6 1282.5,980.9 1282.6,982.3 1282.7,983.6 1282.8,985.0 1282.8,986.3 1282.9,987.7 1283.0,989.0 1283.1,990.4 1283.2,991.7 1283.3,993.1 1283.4,994.4 1283.5,995.8 1283.5,997.1 1283.6,998.4 1283.7,999.8 1283.8,1001.1 1283.9,1002.5 1284.0,1003.8 1284.1,1005.1 1284.2,1006.5 1284.2,1007.8 1284.3,1009.1 1284.4,1010.4 1284.5,1011.8 1284.6,1013.1 1284.7,1014.4 1284.8,1015.7 1284.8,1017.0 1284.9,1018.3 1285.0,1019.6 1285.1,1020.9 1285.2,1022.2 1285.3,1023.5 1285.4,1024.7 1285.5,1026.0 1285.5,1027.3 1285.6,1028.5 1285.7,1029.8 1285.8,1031.0 1285.9,1032.4 1286.0,1033.8 1286.1,1035.3 1286.2,1036.7 1286.3,1038.2 1286.4,1039.7 1286.5,1041.2 1286.6,1042.8 1286.7,1044.3 1286.8,1045.9 1286.9,1047.5 1287.0,1049.1 1287.1,1050.7 1287.2,1052.3 1287.3,1053.9 1287.4,1055.6 1287.5,1057.2 1287.6,1058.8 1287.7,1060.4 1287.8,1062.1 1287.9,1063.7 1288.0,1065.3 1288.1,1067.0 1288.2,1068.6 1288.3,1070.2 1288.4,1071.8 1288.5,1073.4 1288.6,1075.0 1288.7,1076.5 1288.8,1078.1 1288.9,1079.6 1289.0,1081.1 1289.1,1082.6 1289.2,1084.1 1289.3,1085.5 1289.4,1087.0 1289.5,1088.4 1289.6,1089.7 1289.7,1091.1 1289.8,1092.4 1289.9,1093.7 1290.0,1095.0 1290.1,1096.2 1290.2,1097.4 1290.3,1098.5 1290.4,1099.6 1290.4,1100.7 1290.5,1101.7 1290.6,1102.7 1290.7,1103.7 1290.8,1104.6 1290.9,1105.4 1291.0,1106.2 1291.1,1107.0 1291.2,1107.7 1291.3,1108.4 1291.4,1109.0 1291.4,1109.5 1291.5,1110.0 1291.6,1110.4 1291.7,1110.8 1291.9,1111.4 1292.0,1111.7 1292.2,1111.7 1292.4,1111.6 1292.6,1111.1 1292.7,1110.5 1292.9,1109.7 1293.0,1108.7 1293.2,1107.6 1293.4,1106.3 1293.5,1104.8 1293.7,1103.3 1293.8,1101.6 1294.0,1099.8 1294.1,1098.0 1294.3,1096.1 1294.4,1094.2 1294.5,1092.2 1294.7,1090.2 1294.8,1088.2 1295.0,1086.2 1295.1,1084.2 1295.3,1082.3 1295.4,1080.5 1295.5,1078.7 1295.7,1077.0 1295.8,1075.4 1296.0,1073.9 1296.1,1072.5 1296.2,1071.2 1296.4,1069.8 1296.5,1068.5 1296.7,1067.2 1296.8,1065.9 1296.9,1064.5 1297.1,1063.2 1297.2,1061.9 1297.3,1060.6 1297.5,1059.3 1297.6,1058.0 1297.7,1056.7 1297.9,1055.4 1298.0,1054.0 1298.1,1052.7 1298.3,1051.4 1298.4,1050.1 1298.5,1048.8 1298.6,1047.5 1298.8,1046.2 1298.9,1044.9 1299.0,1043.6 1299.1,1042.3 1299.3,1041.0 1299.4,1039.7 1299.5,1038.4 1299.7,1037.1 1299.8,1035.8 1299.9,1034.5 1300.1,1033.1 1300.2,1031.7 1300.3,1030.4 1300.5,1028.9 1300.6,1027.5 1300.7,1026.1 1300.9,1024.6 1301.0,1023.2 1301.1,1021.7 1301.3,1020.3 1301.4,1018.9 1301.5,1017.4 1301.7,1016.0 1301.8,1014.6 1301.9,1013.2 1302.1,1011.8 1302.2,1010.5 1302.3,1009.2 1302.5,1007.9 1302.6,1006.6 1302.7,1005.4 1302.8,1004.3 1303.0,1003.1 1303.1,1002.0 1303.2,1001.0 1303.4,1000.0 1303.5,999.1 1303.9,996.7 1304.2,994.7 1304.5,992.8 1304.8,991.3 1305.1,989.9 1305.5,988.7 1305.8,987.7 1306.2,986.9 1306.6,986.2 1307.1,985.6 1308.2,985.3 1309.4,986.2 1310.6,987.5 1311.9,988.4 1313.2,988.1 1313.8,987.4 1314.3,986.5 1314.9,985.4 1315.4,984.1 1315.9,982.6 1316.5,981.1 1317.1,979.6 1317.6,978.2 1318.2,976.8 1318.8,975.6 1319.4,974.6 1320.4,973.1 1321.5,971.6 1322.6,970.2 1323.8,969.0 1324.8,968.2 1325.8,968.0 1326.7,968.5 1327.1,968.9 1327.4,969.4 1327.8,969.9 1328.1,970.5 1328.3,971.2 1328.6,972.0 1328.9,973.0 1329.1,974.2 1329.3,975.6 1329.5,977.2 1329.8,979.1 1330.0,981.3 1330.2,983.9 1330.4,986.8 1330.5,987.7 1330.5,988.6 1330.6,989.6 1330.6,990.7 1330.7,991.9 1330.7,993.1 1330.8,994.4 1330.8,995.7 1330.9,997.1 1330.9,998.5 1331.0,1000.0 1331.0,1001.5 1331.1,1003.1 1331.1,1004.6 1331.1,1006.3 1331.2,1007.9 1331.2,1009.6 1331.3,1011.2 1331.3,1012.9 1331.4,1014.7 1331.4,1016.4 1331.4,1018.1 1331.5,1019.8 1331.5,1021.6 1331.6,1023.3 1331.6,1025.0 1331.6,1026.7 1331.7,1028.4 1331.7,1030.1 1331.8,1031.7 1331.8,1033.3 1331.8,1034.9 1331.9,1036.5 1331.9,1038.0 1332.0,1039.5 1332.0,1041.0 1332.1,1042.4 1332.1,1043.7 1332.1,1045.0 1332.2,1046.2 1332.2,1047.4 1332.3,1048.5 1332.3,1049.6 1332.4,1050.5 1332.4,1051.5 1332.5,1052.3 1332.5,1053.0 1332.6,1053.7 1332.6,1054.3 1332.7,1054.7 1332.7,1055.1 1332.8,1055.4 1332.9,1055.7 1333.0,1055.7 1333.1,1055.6 1333.2,1055.4 1333.3,1054.9 1333.4,1054.3 1333.5,1053.6 1333.6,1052.7 1333.7,1051.7 1333.8,1050.6 1333.9,1049.4 1334.0,1048.1 1334.1,1046.6 1334.2,1045.1 1334.3,1043.6 1334.5,1041.9 1334.6,1040.2 1334.7,1038.5 1334.8,1036.7 1334.9,1034.9 1335.0,1033.1 1335.1,1031.2 1335.3,1029.4 1335.4,1027.5 1335.5,1025.7 1335.6,1023.9 1335.7,1022.1 1335.8,1020.4 1335.9,1018.7 1336.1,1017.1 1336.2,1015.5 1336.3,1014.0 1336.4,1012.6 1336.5,1011.3 1336.6,1009.9 1336.7,1008.6 1336.8,1007.2 1337.0,1005.8 1337.1,1004.3 1337.2,1002.9 1337.3,1001.4 1337.4,1000.0 1337.5,998.5 1337.7,997.0 1337.8,995.6 1337.9,994.1 1338.0,992.7 1338.1,991.2 1338.2,989.8 1338.4,988.4 1338.5,987.0 1338.6,985.6 1338.7,984.2 1338.8,982.9 1338.9,981.5 1339.1,980.3 1339.2,979.0 1339.3,977.8 1339.4,976.6 1339.5,975.5 1339.6,974.4 1339.7,973.4 1339.9,972.4 1340.0,971.4 1340.1,970.5 1340.2,969.7 1340.6,966.8 1341.1,964.4 1341.5,962.6 1341.9,961.3 1342.4,960.4 1342.8,959.9 1343.3,959.7 1343.8,959.9 1344.2,960.3 1344.6,961.1 1345.1,962.2 1345.5,963.5 1346.0,965.1 1346.5,966.7 1347.0,968.4 1347.4,970.1 1347.9,971.7 1348.3,973.3 1348.7,974.6 1349.2,976.2 1349.6,978.0 1350.0,979.8 1350.4,981.7 1350.7,983.4 1351.1,984.8 1351.5,985.9 1351.9,986.6 1352.4,986.8 1352.8,986.4 1353.2,985.6 1353.6,984.5 1354.0,983.1 1354.5,981.4 1354.9,979.7 1355.4,977.9 1355.8,976.2 1356.3,974.6 1356.8,973.3 1357.3,972.2 1358.2,970.8 1359.2,969.8 1360.3,969.1 1361.3,968.5 1362.4,967.9 1363.4,967.3 1364.7,966.1 1366.0,964.4 1367.2,963.1 1368.4,962.6 1369.5,963.6 1369.8,964.2 1370.0,964.9 1370.3,965.6 1370.5,966.5 1370.7,967.4 1371.0,968.4 1371.2,969.5 1371.4,970.7 1371.6,971.9 1371.8,973.2 1372.0,974.7 1372.1,976.2 1372.3,977.7 1372.5,979.4 1372.7,981.1 1372.9,982.9 1373.0,984.8 1373.2,986.8 1373.3,987.8 1373.4,988.8 1373.4,989.9 1373.5,991.0 1373.6,992.1 1373.7,993.3 1373.7,994.5 1373.8,995.7 1373.9,996.9 1374.0,998.2 1374.0,999.5 1374.1,1000.8 1374.2,1002.1 1374.2,1003.5 1374.3,1004.8 1374.4,1006.2 1374.4,1007.6 1374.5,1009.0 1374.6,1010.4 1374.6,1011.8 1374.7,1013.2 1374.8,1014.7 1374.8,1016.1 1374.9,1017.6 1374.9,1019.0 1375.0,1020.4 1375.1,1021.9 1375.1,1023.3 1375.2,1024.7 1375.3,1026.2 1375.3,1027.6 1375.4,1029.0 1375.4,1030.4 1375.5,1031.8 1375.6,1033.1 1375.6,1034.5 1375.7,1035.8 1375.8,1037.1 1375.8,1038.5 1375.9,1039.8 1376.0,1041.1 1376.0,1042.5 1376.1,1043.8 1376.2,1045.2 1376.3,1046.6 1376.3,1047.9 1376.4,1049.3 1376.5,1050.6 1376.6,1052.0 1376.6,1053.4 1376.7,1054.7 1376.8,1056.1 1376.9,1057.5 1376.9,1058.8 1377.0,1060.2 1377.1,1061.5 1377.2,1062.9 1377.2,1064.2 1377.3,1065.6 1377.4,1066.9 1377.4,1068.2 1377.5,1069.6 1377.6,1070.9 1377.6,1072.2 1377.7,1073.5 1377.7,1074.8 1377.8,1076.1 1377.8,1077.3 1377.9,1078.6 1377.9,1079.8 1378.0,1081.1 1378.0,1082.3 1378.1,1083.5 1378.1,1084.7 1378.1,1086.2 1378.2,1087.8 1378.2,1089.4 1378.2,1091.0 1378.2,1092.7 1378.2,1094.4 1378.2,1096.1 1378.2,1097.9 1378.2,1099.6 1378.2,1101.4 1378.2,1103.1 1378.2,1104.8 1378.1,1106.5 1378.1,1108.2 1378.1,1109.8 1378.1,1111.4 1378.1,1112.9 1378.0,1114.3 1378.0,1115.7 1378.0,1117.0 1378.0,1118.2 1378.0,1119.3 1378.0,1120.3 1378.0,1121.2 1378.0,1122.0 1378.0,1122.7 1378.0,1123.2 1378.0,1123.6 1378.1,1123.8 1378.1,1123.9 1378.1,1123.8 1378.2,1123.6 1378.2,1123.2 1378.3,1122.7 1378.4,1122.0 1378.4,1121.2 1378.5,1120.3 1378.6,1119.3 1378.6,1118.2 1378.7,1117.0 1378.8,1115.7 1378.9,1114.3 1379.0,1112.9 1379.0,1111.4 1379.1,1109.8 1379.2,1108.2 1379.3,1106.5 1379.4,1104.8 1379.5,1103.1 1379.6,1101.4 1379.7,1099.6 1379.8,1097.9 1379.9,1096.1 1380.0,1094.4 1380.1,1092.7 1380.2,1091.0 1380.3,1089.4 1380.4,1087.8 1380.5,1086.2 1380.6,1084.7 1380.7,1083.5 1380.8,1082.2 1380.9,1080.9 1380.9,1079.6 1381.0,1078.3 1381.1,1076.9 1381.2,1075.5 1381.3,1074.0 1381.4,1072.6 1381.5,1071.1 1381.6,1069.6 1381.7,1068.1 1381.8,1066.6 1381.9,1065.1 1382.0,1063.6 1382.1,1062.1 1382.2,1060.6 1382.3,1059.1 1382.4,1057.6 1382.5,1056.1 1382.6,1054.7 1382.7,1053.2 1382.8,1051.8 1382.9,1050.4 1383.0,1049.0 1383.1,1047.7 1383.2,1046.4 1383.3,1045.1 1383.4,1043.9 1383.5,1042.7 1383.6,1041.5 1383.7,1040.4 1383.8,1039.4 1383.9,1038.4 1384.0,1037.5 1384.1,1036.6 1384.2,1035.8 1384.7,1032.2 1385.2,1029.5 1385.8,1027.8 1386.3,1026.7 1386.8,1026.3 1387.4,1026.5 1387.9,1027.2 1388.1,1027.7 1388.4,1028.4 1388.6,1029.2 1388.8,1030.2 1389.1,1031.3 1389.3,1032.6 1389.5,1033.9 1389.8,1035.4 1390.0,1036.9 1390.2,1038.5 1390.5,1040.1 1390.7,1041.7 1390.9,1043.3 1391.1,1044.9 1391.4,1046.5 1391.6,1048.0 1391.8,1049.3 1392.0,1050.7 1392.1,1052.2 1392.3,1053.9 1392.5,1055.6 1392.6,1057.3 1392.8,1059.1 1393.0,1060.9 1393.2,1062.7 1393.3,1064.5 1393.5,1066.2 1393.7,1067.8 1393.8,1069.3 1394.0,1070.7 1394.2,1071.9 1394.4,1073.0 1394.6,1073.8 1394.8,1074.5 1395.0,1074.9 1395.2,1075.0 1395.4,1074.9 1395.6,1074.5 1395.8,1073.9 1396.0,1073.0 1396.2,1072.0 1396.4,1070.9 1396.6,1069.5 1396.9,1068.1 1397.1,1066.6 1397.3,1064.9 1397.5,1063.3 1397.8,1061.5 1398.0,1059.8 1398.2,1058.1 1398.5,1056.4 1398.7,1054.7 1399.0,1053.2 1399.3,1051.7 1399.5,1050.3 1399.8,1049.1 1400.1,1048.0 1400.6,1046.3 1401.2,1044.8 1401.8,1043.4 1402.5,1042.1 1403.1,1040.9 1403.8,1039.7 1404.5,1038.6 1405.1,1037.6 1405.8,1036.5 1406.4,1035.5 1407.0,1034.4 1407.5,1033.3 1408.1,1032.0 1408.6,1030.7 1409.1,1029.4 1409.6,1028.1 1410.1,1026.9 1410.5,1025.7 1411.0,1024.5 1411.4,1023.3 1411.9,1022.2 1412.4,1021.1 1413.0,1019.6 1413.7,1018.1 1414.4,1016.5 1415.1,1015.0 1415.7,1013.6 1416.4,1012.5 1417.1,1011.7 1417.8,1011.3 1418.6,1011.4 1419.4,1012.0 1420.2,1012.9 1421.0,1014.1 1421.8,1015.6 1422.6,1017.1 1423.4,1018.7 1423.9,1019.8 1424.3,1020.9 1424.8,1022.2 1425.2,1023.6 1425.6,1025.0 1426.0,1026.4 1426.5,1027.8 1426.9,1029.3 1427.3,1030.7 1427.8,1032.0 1428.3,1033.3 1428.9,1034.8 1429.5,1036.4 1430.1,1038.1 1430.7,1039.8 1431.4,1041.4 1432.0,1042.9 1432.6,1044.1 1433.2,1045.1 1433.8,1045.7 1434.4,1045.8 1434.8,1045.6 1435.3,1045.1 1435.7,1044.4 1436.1,1043.5 1436.5,1042.4 1436.8,1041.1 1437.2,1039.7 1437.6,1038.1 1438.0,1036.5 1438.4,1034.7 1438.9,1032.8 1439.3,1030.9 1439.5,1029.9 1439.8,1028.9 1440.0,1027.9 1440.2,1026.8 1440.5,1025.7 1440.7,1024.5 1441.0,1023.4 1441.2,1022.2 1441.5,1021.0 1441.8,1019.7 1442.0,1018.4 1442.3,1017.1 1442.5,1015.8 1442.8,1014.4 1443.1,1013.0 1443.3,1011.6 1443.6,1010.1 1443.8,1008.7 1444.1,1007.1 1444.4,1005.6 1444.6,1004.0 1444.9,1002.4 1445.1,1000.8 1445.4,999.1 1445.6,998.0 1445.7,996.9 1445.9,995.7 1446.1,994.5 1446.2,993.3 1446.4,992.0 1446.5,990.7 1446.7,989.4 1446.9,988.1 1447.0,986.8 1447.2,985.4 1447.3,984.0 1447.5,982.7 1447.7,981.3 1447.8,979.9 1448.0,978.5 1448.1,977.0 1448.3,975.6 1448.4,974.2 1448.6,972.8 1448.8,971.3 1448.9,969.9 1449.1,968.5 1449.3,967.1 1449.4,965.7 1449.6,964.3 1449.8,962.9 1449.9,961.5 1450.1,960.2 1450.3,958.9 1450.4,957.5 1450.6,956.2 1450.8,955.0 1451.0,953.7 1451.1,952.5 1451.3,951.3 1451.5,950.1 1451.7,948.6 1452.0,947.1 1452.2,945.6 1452.5,944.1 1452.7,942.7 1453.0,941.2 1453.3,939.8 1453.5,938.4 1453.8,937.0 1454.1,935.7 1454.3,934.3 1454.6,933.0 1454.9,931.7 1455.1,930.4 1455.4,929.1 1455.7,927.8 1455.9,926.5 1456.2,925.3 1456.5,924.0 1456.8,922.8 1457.0,921.6 1457.3,920.4 1457.6,919.2 1457.8,918.0 1458.1,916.9 1458.4,915.7 1458.6,914.5 1458.9,913.4 1459.3,911.9 1459.6,910.4 1460.0,909.0 1460.3,907.6 1460.7,906.2 1461.0,904.8 1461.4,903.4 1461.7,902.1 1462.1,900.8 1462.5,899.5 1462.8,898.3 1463.2,897.0 1463.5,895.8 1463.9,894.6 1464.2,893.4 1464.5,892.2 1464.9,891.0 1465.2,889.9 1465.6,888.7 1465.9,887.6 1466.2,886.5 1466.6,885.0 1467.1,883.4 1467.5,881.9 1467.9,880.5 1468.4,879.0 1468.8,877.6 1469.2,876.2 1469.6,874.9 1470.0,873.6 1470.4,872.3 1470.8,871.1 1471.2,870.0 1471.6,868.9 1471.9,867.9 1472.3,866.9 1473.1,864.9 1473.8,863.1 1474.5,861.5 1475.2,860.1 1475.9,859.1 1476.6,858.5 1477.2,858.4 1477.7,858.6 1478.2,859.1 1478.7,859.9 1479.1,860.9 1479.6,862.4 1480.0,864.2 1480.4,866.5 1480.9,869.4 1481.0,870.3 1481.1,871.2 1481.3,872.3 1481.4,873.3 1481.5,874.5 1481.7,875.7 1481.8,877.0 1481.9,878.3 1482.1,879.6 1482.2,881.0 1482.3,882.4 1482.4,883.9 1482.6,885.4 1482.7,886.8 1482.8,888.3 1483.0,889.8 1483.1,891.3 1483.2,892.8 1483.3,894.3 1483.5,895.8 1483.6,897.2 1483.7,898.7 1483.8,900.0 1483.9,901.4 1484.1,902.7 1484.2,904.0 1484.3,905.2 1484.4,906.4 1484.5,907.5 1484.6,908.5 1484.8,910.4 1485.0,912.3 1485.1,914.2 1485.3,916.1 1485.4,918.0 1485.6,919.8 1485.7,921.5 1485.9,923.1 1486.0,924.6 1486.1,925.9 1486.3,927.0 1486.4,928.0 1486.6,928.7 1486.7,929.2 1486.8,929.4 1487.0,929.3 1487.1,929.0 1487.2,928.5 1487.3,927.8 1487.5,927.0 1487.6,926.0 1487.7,924.8 1487.8,923.5 1487.9,922.1 1488.0,920.6 1488.1,919.0 1488.2,917.4 1488.3,915.7 1488.5,914.0 1488.6,912.3 1488.7,910.6 1488.8,908.9 1489.0,907.2 1489.1,905.6 1489.2,904.0 1489.4,902.6 1489.5,901.2 1489.7,899.8 1489.8,898.4 1490.0,896.9 1490.1,895.4 1490.3,893.9 1490.5,892.4 1490.6,890.9 1490.8,889.4 1491.0,887.9 1491.1,886.4 1491.3,884.9 1491.5,883.5 1491.7,882.1 1491.9,880.8 1492.1,879.5 1492.3,878.3 1492.5,877.2 1492.7,876.1 1492.9,875.2 1493.1,874.3 1493.8,872.0 1494.5,870.4 1495.2,869.4 1496.0,868.8 1496.9,868.5 1498.0,868.1 1499.1,867.8 1500.4,867.5 1501.9,867.4 1503.3,867.5 1504.9,867.8 1506.4,868.4 1507.8,869.4 1508.6,870.1 1509.3,870.9 1510.1,871.7 1510.9,872.7 1511.7,873.7 1512.5,874.9 1513.2,876.1 1514.0,877.3 1514.8,878.6 1515.5,879.9 1516.2,881.3 1516.9,882.7 1517.6,884.1 1518.1,885.2 1518.6,886.3 1519.1,887.4 1519.5,888.5 1520.0,889.6 1520.4,890.7 1520.8,891.9 1521.3,893.1 1521.7,894.3 1522.1,895.6 1522.5,897.0 1522.9,898.3 1523.3,899.8 1523.7,901.2 1524.1,902.8 1524.5,904.4 1524.9,906.1 1525.1,907.2 1525.4,908.2 1525.6,909.3 1525.9,910.4 1526.1,911.5 1526.3,912.7 1526.6,913.8 1526.8,915.0 1527.0,916.2 1527.2,917.4 1527.5,918.7 1527.7,919.9 1527.9,921.2 1528.2,922.5 1528.4,923.8 1528.6,925.1 1528.8,926.5 1529.0,927.8 1529.2,929.2 1529.5,930.6 1529.7,932.1 1529.9,933.5 1530.1,935.0 1530.3,936.5 1530.5,938.1 1530.7,939.6 1530.9,941.2 1531.1,942.8 1531.2,943.9 1531.4,945.0 1531.5,946.2 1531.6,947.3 1531.8,948.5 1531.9,949.7 1532.0,950.9 1532.1,952.1 1532.3,953.3 1532.4,954.5 1532.5,955.7 1532.6,957.0 1532.7,958.3 1532.9,959.5 1533.0,960.8 1533.1,962.1 1533.2,963.4 1533.3,964.7 1533.5,966.0 1533.6,967.3 1533.7,968.7 1533.8,970.0 1533.9,971.4 1534.0,972.7 1534.1,974.1 1534.3,975.5 1534.4,976.8 1534.5,978.2 1534.6,979.6 1534.7,981.0 1534.8,982.4 1534.9,983.8 1535.1,985.2 1535.2,986.6 1535.3,988.0 1535.4,989.5 1535.5,990.9 1535.6,992.3 1535.8,993.7 1535.9,995.2 1536.0,996.6 1536.1,997.8 1536.2,999.0 1536.3,1000.3 1536.4,1001.5 1536.5,1002.8 1536.6,1004.0 1536.7,1005.3 1536.8,1006.6 1536.9,1007.9 1537.0,1009.2 1537.1,1010.6 1537.2,1011.9 1537.3,1013.2 1537.4,1014.6 1537.5,1015.9 1537.6,1017.3 1537.7,1018.6 1537.8,1020.0 1537.9,1021.4 1538.0,1022.7 1538.1,1024.1 1538.2,1025.5 1538.3,1026.9 1538.4,1028.2 1538.5,1029.6 1538.6,1031.0 1538.7,1032.3 1538.8,1033.7 1538.9,1035.0 1539.0,1036.4 1539.1,1037.7 1539.2,1039.1 1539.3,1040.4 1539.4,1041.7 1539.5,1043.1 1539.6,1044.4 1539.7,1045.7 1539.8,1047.0 1539.9,1048.2 1540.0,1049.5 1540.1,1050.8 1540.2,1052.0 1540.3,1053.2 1540.4,1054.5 1540.5,1055.7 1540.6,1056.8 1540.7,1058.0 1540.8,1059.2 1540.9,1060.3 1541.0,1061.9 1541.2,1063.5 1541.3,1065.1 1541.5,1066.8 1541.6,1068.4 1541.7,1070.1 1541.9,1071.8 1542.0,1073.4 1542.1,1075.1 1542.3,1076.8 1542.4,1078.4 1542.5,1080.1 1542.7,1081.7 1542.8,1083.3 1542.9,1084.9 1543.1,1086.5 1543.2,1088.0 1543.3,1089.5 1543.5,1091.0 1543.6,1092.4 1543.8,1093.8 1543.9,1095.1 1544.0,1096.4 1544.2,1097.7 1544.3,1098.8 1544.5,1100.0 1544.6,1101.0 1544.7,1102.0 1544.9,1102.9 1545.0,1103.8 1545.2,1104.5 1545.3,1105.2 1545.5,1105.8 1545.6,1106.4 1545.8,1106.8 1546.2,1107.4 1546.6,1107.5 1547.0,1107.1 1547.4,1106.3 1547.8,1105.1 1548.2,1103.6 1548.6,1101.9 1549.1,1100.0 1549.5,1098.0 1549.9,1096.0 1550.3,1094.0 1550.7,1092.0 1551.1,1090.2 1551.5,1088.6 1551.9,1087.2 1552.3,1085.8 1552.7,1084.4 1553.1,1083.1 1553.5,1081.8 1553.9,1080.5 1554.2,1079.2 1554.6,1078.0 1555.0,1076.7 1555.3,1075.4 1555.7,1074.1 1556.1,1072.7 1556.4,1071.4 1556.8,1070.0 1557.1,1068.7 1557.5,1067.4 1557.9,1065.9 1558.2,1064.5 1558.6,1062.9 1559.0,1061.4 1559.4,1059.9 1559.7,1058.4 1560.1,1057.0 1560.4,1055.6 1560.7,1054.4 1561.0,1053.2 1561.3,1052.1 1561.5,1051.2 1561.7,1050.5" fill="none" stroke="#0000ff" stroke-width="6.2" stroke-linejoin="round" stroke-linecap="butt"/>

<rect x="107.9" y="28.7" width="1455.6" height="1173" fill="none" stroke="#000" stroke-width="6"/>
<line x1="107.9" y1="1201" x2="107.9" y2="1224.5" stroke="#000" stroke-width="6"/>
<line x1="214.9" y1="1201" x2="214.9" y2="1212.5" stroke="#000" stroke-width="6"/>
<line x1="321.9" y1="1201" x2="321.9" y2="1224.5" stroke="#000" stroke-width="6"/>
<line x1="428.9" y1="1201" x2="428.9" y2="1212.5" stroke="#000" stroke-width="6"/>
<line x1="535.9" y1="1201" x2="535.9" y2="1224.5" stroke="#000" stroke-width="6"/>
<line x1="642.9" y1="1201" x2="642.9" y2="1212.5" stroke="#000" stroke-width="6"/>
<line x1="749.9" y1="1201" x2="749.9" y2="1224.5" stroke="#000" stroke-width="6"/>
<line x1="857.0" y1="1201" x2="857.0" y2="1212.5" stroke="#000" stroke-width="6"/>
<line x1="964.0" y1="1201" x2="964.0" y2="1224.5" stroke="#000" stroke-width="6"/>
<line x1="1071.0" y1="1201" x2="1071.0" y2="1212.5" stroke="#000" stroke-width="6"/>
<line x1="1178.0" y1="1201" x2="1178.0" y2="1224.5" stroke="#000" stroke-width="6"/>
<line x1="1285.0" y1="1201" x2="1285.0" y2="1212.5" stroke="#000" stroke-width="6"/>
<line x1="1392.0" y1="1201" x2="1392.0" y2="1224.5" stroke="#000" stroke-width="6"/>
<line x1="1499.0" y1="1201" x2="1499.0" y2="1212.5" stroke="#000" stroke-width="6"/>

<text transform="translate(107.9,1278.8) scale(1,1.056)" text-anchor="middle" class="tk">4000</text>
<text transform="translate(321.9,1278.8) scale(1,1.056)" text-anchor="middle" class="tk">3500</text>
<text transform="translate(535.9,1278.8) scale(1,1.056)" text-anchor="middle" class="tk">3000</text>
<text transform="translate(749.9,1278.8) scale(1,1.056)" text-anchor="middle" class="tk">2500</text>
<text transform="translate(964.0,1278.8) scale(1,1.056)" text-anchor="middle" class="tk">2000</text>
<text transform="translate(1178.0,1278.8) scale(1,1.056)" text-anchor="middle" class="tk">1500</text>
<text transform="translate(1392.0,1278.8) scale(1,1.056)" text-anchor="middle" class="tk">1000</text>

<text x="525" y="1353.3" class="ttl">Wavenumber</text>
<text x="923" y="1353.3" class="ttl rg">(</text>
<text x="944.5" y="1353.3" class="ttl">cm</text>
<text transform="translate(1028.5,1328.4) scale(0.8,1)" class="sup">&#8722;1</text>
<text x="1071" y="1353.3" class="ttl rg">)</text>
<text transform="translate(66.3,872) rotate(-90)" class="ttl">Transmittance <tspan class="rg">(%)</tspan></text>
<text transform="translate(134.5,108) scale(1,1.05)" class="lb">a</text>
<text transform="translate(134,508.3) scale(1,1.03)" class="lb">b</text>
<text transform="translate(132.5,672.3) scale(1,1.05)" class="lb">c</text>
<text transform="translate(1298.5,832) scale(1,1.08)" class="an">1130</text>
<text transform="translate(1440.5,817.3) scale(1,1.08)" class="an">1023</text>
<text transform="translate(1238.7,1162.8) scale(1,1.08)" class="an">1030</text>
<text transform="translate(1437,1127.3) scale(1,1.08)" class="an">898</text>
<g stroke="#000" stroke-width="4" fill="none" stroke-linecap="round" stroke-linejoin="miter">
<path d="M1334.0 737.3 L1342.9 775.8 M1328.3 759.1 L1342.9 775.8 L1350.4 754.4"/>
<path d="M1382.8 788.4 L1433.9 802.0 M1418.0 786.6 L1433.9 802.0 L1411.7 808.6"/>
<path d="M1379.2 1126.5 L1338.0 1146.2 M1351.3 1127.5 L1338.0 1146.2 L1361.2 1147.8"/>
<path d="M1435.1 1046.9 L1462.2 1089.1 M1441.8 1078.2 L1462.2 1089.1 L1460.5 1065.9"/>
</g>
</svg>
</body></html>
